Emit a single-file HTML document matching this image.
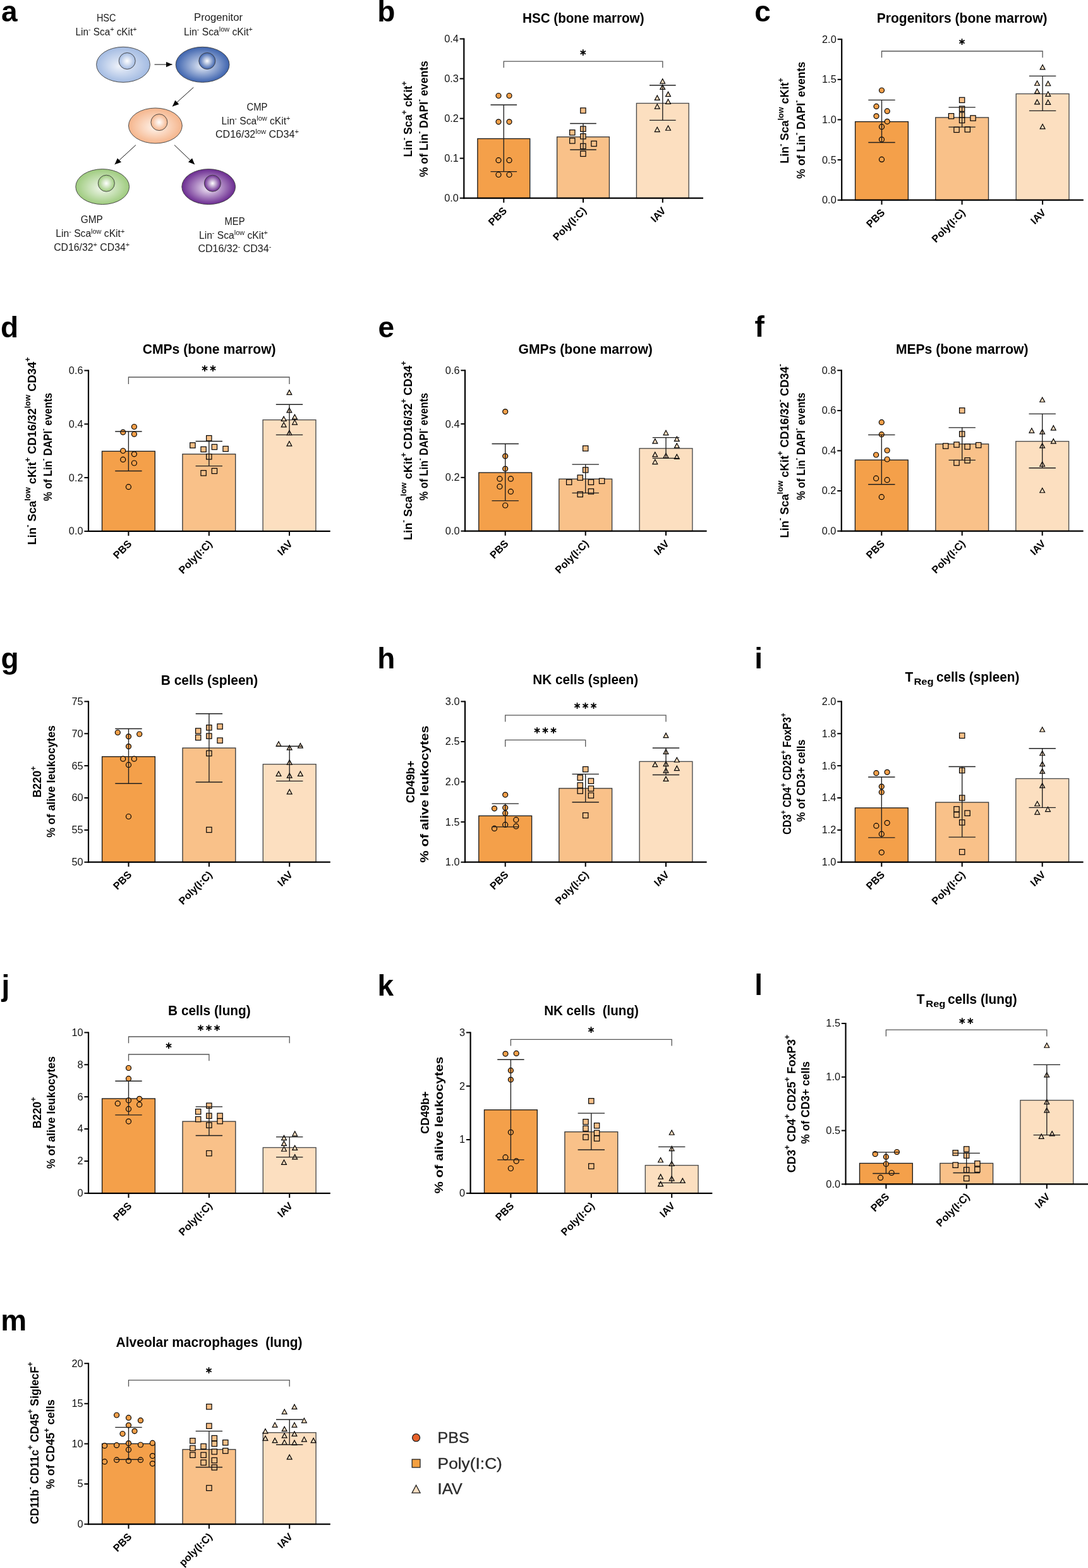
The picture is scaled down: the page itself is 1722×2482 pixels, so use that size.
<!DOCTYPE html>
<html><head><meta charset="utf-8"><title>Figure</title>
<style>
html,body{margin:0;padding:0;background:#fff;}
body{width:1722px;height:2482px;overflow:hidden;}
svg{display:block;}
text{font-family:"Liberation Sans", Arial, Helvetica, sans-serif;}
</style></head>
<body>
<svg width="1722" height="2482" viewBox="0 0 1722 2482">
<rect x="0" y="0" width="1722" height="2482" fill="#fff"/>
<defs><radialGradient id="g_hsc" cx="0.5" cy="0.5" r="0.5" fx="0.42" fy="0.55"><stop offset="0" stop-color="#EEF2FA"/><stop offset="1" stop-color="#A3BBE2"/></radialGradient><radialGradient id="n_hsc" cx="0.5" cy="0.5" r="0.5" fx="0.5" fy="0.5"><stop offset="0" stop-color="#FFFFFF"/><stop offset="1" stop-color="#A3BBE2"/></radialGradient><radialGradient id="g_pro" cx="0.5" cy="0.5" r="0.5" fx="0.5" fy="0.55"><stop offset="0" stop-color="#E6ECF7"/><stop offset="1" stop-color="#3D63AE"/></radialGradient><radialGradient id="n_pro" cx="0.5" cy="0.5" r="0.5" fx="0.5" fy="0.5"><stop offset="0" stop-color="#FFFFFF"/><stop offset="1" stop-color="#3D63AE"/></radialGradient><radialGradient id="g_cmp" cx="0.5" cy="0.5" r="0.5" fx="0.5" fy="0.55"><stop offset="0" stop-color="#FFF4EC"/><stop offset="1" stop-color="#F5B58C"/></radialGradient><radialGradient id="n_cmp" cx="0.5" cy="0.5" r="0.5" fx="0.5" fy="0.5"><stop offset="0" stop-color="#FFFFFF"/><stop offset="1" stop-color="#F5B58C"/></radialGradient><radialGradient id="g_gmp" cx="0.5" cy="0.5" r="0.5" fx="0.5" fy="0.55"><stop offset="0" stop-color="#F3F8EF"/><stop offset="1" stop-color="#9ECB7E"/></radialGradient><radialGradient id="n_gmp" cx="0.5" cy="0.5" r="0.5" fx="0.5" fy="0.5"><stop offset="0" stop-color="#FFFFFF"/><stop offset="1" stop-color="#9ECB7E"/></radialGradient><radialGradient id="g_mep" cx="0.5" cy="0.5" r="0.5" fx="0.5" fy="0.55"><stop offset="0" stop-color="#F3EAF7"/><stop offset="1" stop-color="#6A2A90"/></radialGradient><radialGradient id="n_mep" cx="0.5" cy="0.5" r="0.5" fx="0.5" fy="0.5"><stop offset="0" stop-color="#FFFFFF"/><stop offset="1" stop-color="#6A2A90"/></radialGradient><marker id="arr" viewBox="0 0 10 10" refX="10" refY="5" markerWidth="10" markerHeight="10" markerUnits="userSpaceOnUse" orient="auto"><path d="M0,0.6 L10,5 L0,9.4 z" fill="#000"/></marker></defs>
<ellipse cx="195" cy="102.3" rx="42.4" ry="28" fill="url(#g_hsc)" stroke="#3c3c3c" stroke-width="0.9"/>
<circle cx="201.2" cy="96.5" r="13" fill="url(#n_hsc)" stroke="#3c3c3c" stroke-width="0.9"/>
<ellipse cx="320.6" cy="102.3" rx="42.4" ry="28" fill="url(#g_pro)" stroke="#3c3c3c" stroke-width="0.9"/>
<circle cx="327.8" cy="96.5" r="13" fill="url(#n_pro)" stroke="#3c3c3c" stroke-width="0.9"/>
<ellipse cx="245.9" cy="199" rx="42.4" ry="28" fill="url(#g_cmp)" stroke="#3c3c3c" stroke-width="0.9"/>
<circle cx="251.9" cy="193.6" r="13" fill="url(#n_cmp)" stroke="#3c3c3c" stroke-width="0.9"/>
<ellipse cx="162.2" cy="295.6" rx="42.4" ry="28" fill="url(#g_gmp)" stroke="#3c3c3c" stroke-width="0.9"/>
<circle cx="168.3" cy="290.2" r="13" fill="url(#n_gmp)" stroke="#3c3c3c" stroke-width="0.9"/>
<ellipse cx="330.2" cy="295.6" rx="42.4" ry="28" fill="url(#g_mep)" stroke="#3c3c3c" stroke-width="0.9"/>
<circle cx="336.4" cy="290.2" r="13" fill="url(#n_mep)" stroke="#3c3c3c" stroke-width="0.9"/>
<line x1="244.5" y1="102.1" x2="272.6" y2="102.1" stroke="#111" stroke-width="1" marker-end="url(#arr)"/>
<line x1="306.3" y1="138.3" x2="272.9" y2="168.4" stroke="#111" stroke-width="1" marker-end="url(#arr)"/>
<line x1="214.9" y1="229.6" x2="181.6" y2="260.2" stroke="#111" stroke-width="1" marker-end="url(#arr)"/>
<line x1="276" y1="229.6" x2="308.1" y2="260.2" stroke="#111" stroke-width="1" marker-end="url(#arr)"/>
<text x="168.2" y="33.8" font-size="15.6" font-weight="normal" text-anchor="middle" fill="#1a1a1a" textLength="30.5" lengthAdjust="spacingAndGlyphs">HSC</text>
<text x="168" y="55.6" font-size="15.6" font-weight="normal" text-anchor="middle" fill="#1a1a1a" textLength="97" lengthAdjust="spacingAndGlyphs">Lin<tspan font-size="10.92" dy="-5.62">-</tspan><tspan dy="5.62"> Sca</tspan><tspan font-size="10.92" dy="-5.62">+</tspan><tspan dy="5.62"> cKit</tspan><tspan font-size="10.92" dy="-5.62">+</tspan></text>
<text x="345.6" y="33.1" font-size="15.6" font-weight="normal" text-anchor="middle" fill="#1a1a1a" textLength="77" lengthAdjust="spacingAndGlyphs">Progenitor</text>
<text x="345.5" y="55.6" font-size="15.6" font-weight="normal" text-anchor="middle" fill="#1a1a1a" textLength="109" lengthAdjust="spacingAndGlyphs">Lin<tspan font-size="10.92" dy="-5.62">-</tspan><tspan dy="5.62"> Sca</tspan><tspan font-size="10.92" dy="-5.62">low</tspan><tspan dy="5.62"> cKit</tspan><tspan font-size="10.92" dy="-5.62">+</tspan></text>
<text x="407" y="174.7" font-size="15.6" font-weight="normal" text-anchor="middle" fill="#1a1a1a" textLength="33" lengthAdjust="spacingAndGlyphs">CMP</text>
<text x="405" y="196.7" font-size="15.6" font-weight="normal" text-anchor="middle" fill="#1a1a1a" textLength="109" lengthAdjust="spacingAndGlyphs">Lin<tspan font-size="10.92" dy="-5.62">-</tspan><tspan dy="5.62"> Sca</tspan><tspan font-size="10.92" dy="-5.62">low</tspan><tspan dy="5.62"> cKit</tspan><tspan font-size="10.92" dy="-5.62">+</tspan></text>
<text x="407" y="217.5" font-size="15.6" font-weight="normal" text-anchor="middle" fill="#1a1a1a" textLength="132" lengthAdjust="spacingAndGlyphs">CD16/32<tspan font-size="10.92" dy="-5.62">low</tspan><tspan dy="5.62"> CD34</tspan><tspan font-size="10.92" dy="-5.62">+</tspan></text>
<text x="145.2" y="353.4" font-size="15.6" font-weight="normal" text-anchor="middle" fill="#1a1a1a" textLength="35" lengthAdjust="spacingAndGlyphs">GMP</text>
<text x="142.8" y="375.4" font-size="15.6" font-weight="normal" text-anchor="middle" fill="#1a1a1a" textLength="109" lengthAdjust="spacingAndGlyphs">Lin<tspan font-size="10.92" dy="-5.62">-</tspan><tspan dy="5.62"> Sca</tspan><tspan font-size="10.92" dy="-5.62">low</tspan><tspan dy="5.62"> cKit</tspan><tspan font-size="10.92" dy="-5.62">+</tspan></text>
<text x="145.2" y="396.7" font-size="15.6" font-weight="normal" text-anchor="middle" fill="#1a1a1a" textLength="120" lengthAdjust="spacingAndGlyphs">CD16/32<tspan font-size="10.92" dy="-5.62">+</tspan><tspan dy="5.62"> CD34</tspan><tspan font-size="10.92" dy="-5.62">+</tspan></text>
<text x="371.5" y="355.9" font-size="15.6" font-weight="normal" text-anchor="middle" fill="#1a1a1a" textLength="32" lengthAdjust="spacingAndGlyphs">MEP</text>
<text x="369.5" y="378" font-size="15.6" font-weight="normal" text-anchor="middle" fill="#1a1a1a" textLength="109" lengthAdjust="spacingAndGlyphs">Lin<tspan font-size="10.92" dy="-5.62">-</tspan><tspan dy="5.62"> Sca</tspan><tspan font-size="10.92" dy="-5.62">low</tspan><tspan dy="5.62"> cKit</tspan><tspan font-size="10.92" dy="-5.62">+</tspan></text>
<text x="371.4" y="399.3" font-size="15.6" font-weight="normal" text-anchor="middle" fill="#1a1a1a" textLength="116" lengthAdjust="spacingAndGlyphs">CD16/32<tspan font-size="10.92" dy="-5.62">-</tspan><tspan dy="5.62"> CD34</tspan><tspan font-size="10.92" dy="-5.62">-</tspan></text>
<rect x="755.9" y="219.5" width="82.8" height="94.1" fill="#F4A04A" stroke="#1c1c1c" stroke-width="1.35"/>
<rect x="881.6" y="216.7" width="82.8" height="96.9" fill="#F9C189" stroke="#383838" stroke-width="1.35"/>
<rect x="1007.4" y="163.5" width="82.8" height="150.1" fill="#FCDFC0" stroke="#4a4a4a" stroke-width="1.35"/>
<circle cx="789" cy="151.5" r="4" fill="#F4A04A" stroke="#000" stroke-width="1.2"/>
<circle cx="806" cy="151.5" r="4" fill="#F4A04A" stroke="#000" stroke-width="1.2"/>
<circle cx="789" cy="192.8" r="4" fill="#F4A04A" stroke="#000" stroke-width="1.2"/>
<circle cx="806" cy="192.8" r="4" fill="#F4A04A" stroke="#000" stroke-width="1.2"/>
<circle cx="789" cy="253.7" r="4" fill="#F4A04A" stroke="#000" stroke-width="1.2"/>
<circle cx="806" cy="253.7" r="4" fill="#F4A04A" stroke="#000" stroke-width="1.2"/>
<circle cx="789" cy="276.5" r="4" fill="#F4A04A" stroke="#000" stroke-width="1.2"/>
<circle cx="806" cy="276.5" r="4" fill="#F4A04A" stroke="#000" stroke-width="1.2"/>
<rect x="918.75" y="170.85" width="8.3" height="8.3" fill="#F9C189" stroke="#000" stroke-width="1.2"/>
<rect x="901.65" y="205.65" width="8.3" height="8.3" fill="#F9C189" stroke="#000" stroke-width="1.2"/>
<rect x="918.75" y="199.95" width="8.3" height="8.3" fill="#F9C189" stroke="#000" stroke-width="1.2"/>
<rect x="918.75" y="211.65" width="8.3" height="8.3" fill="#F9C189" stroke="#000" stroke-width="1.2"/>
<rect x="901.65" y="218.75" width="8.3" height="8.3" fill="#F9C189" stroke="#000" stroke-width="1.2"/>
<rect x="935.85" y="223.25" width="8.3" height="8.3" fill="#F9C189" stroke="#000" stroke-width="1.2"/>
<rect x="918.75" y="227.25" width="8.3" height="8.3" fill="#F9C189" stroke="#000" stroke-width="1.2"/>
<rect x="918.75" y="239.25" width="8.3" height="8.3" fill="#F9C189" stroke="#000" stroke-width="1.2"/>
<polygon points="1048.7,124.75 1044.8,132.05 1052.6,132.05" fill="#FCDFC0" stroke="#000" stroke-width="1.2" stroke-linejoin="miter"/>
<polygon points="1048.7,134.15 1044.8,141.45 1052.6,141.45" fill="#FCDFC0" stroke="#000" stroke-width="1.2" stroke-linejoin="miter"/>
<polygon points="1057.5,145.35 1053.6,152.65 1061.4,152.65" fill="#FCDFC0" stroke="#000" stroke-width="1.2" stroke-linejoin="miter"/>
<polygon points="1040.2,151.05 1036.3,158.35 1044.1,158.35" fill="#FCDFC0" stroke="#000" stroke-width="1.2" stroke-linejoin="miter"/>
<polygon points="1057.5,157.05 1053.6,164.35 1061.4,164.35" fill="#FCDFC0" stroke="#000" stroke-width="1.2" stroke-linejoin="miter"/>
<polygon points="1040.2,164.75 1036.3,172.05 1044.1,172.05" fill="#FCDFC0" stroke="#000" stroke-width="1.2" stroke-linejoin="miter"/>
<polygon points="1040.2,201.25 1036.3,208.55 1044.1,208.55" fill="#FCDFC0" stroke="#000" stroke-width="1.2" stroke-linejoin="miter"/>
<polygon points="1057.5,198.95 1053.6,206.25 1061.4,206.25" fill="#FCDFC0" stroke="#000" stroke-width="1.2" stroke-linejoin="miter"/>
<line x1="797.3" y1="166" x2="797.3" y2="271.6" stroke="#1e1e1e" stroke-width="1.35"/>
<line x1="776.5" y1="166" x2="818.1" y2="166" stroke="#1e1e1e" stroke-width="1.35"/>
<line x1="776.5" y1="271.6" x2="818.1" y2="271.6" stroke="#1e1e1e" stroke-width="1.35"/>
<line x1="923" y1="195.5" x2="923" y2="237" stroke="#1e1e1e" stroke-width="1.35"/>
<line x1="902.2" y1="195.5" x2="943.8" y2="195.5" stroke="#1e1e1e" stroke-width="1.35"/>
<line x1="902.2" y1="237" x2="943.8" y2="237" stroke="#1e1e1e" stroke-width="1.35"/>
<line x1="1048.8" y1="135" x2="1048.8" y2="190.4" stroke="#1e1e1e" stroke-width="1.35"/>
<line x1="1028" y1="135" x2="1069.6" y2="135" stroke="#1e1e1e" stroke-width="1.35"/>
<line x1="1028" y1="190.4" x2="1069.6" y2="190.4" stroke="#1e1e1e" stroke-width="1.35"/>
<line x1="734.3" y1="60.5" x2="734.3" y2="314.7" stroke="#000" stroke-width="2.2"/>
<line x1="733.2" y1="313.6" x2="1113" y2="313.6" stroke="#000" stroke-width="2.2"/>
<line x1="727.7" y1="313.6" x2="734.3" y2="313.6" stroke="#000" stroke-width="2"/>
<text x="725.8" y="319.05" font-size="16.3" font-weight="normal" text-anchor="end" fill="#111">0.0</text>
<line x1="727.7" y1="250.58" x2="734.3" y2="250.58" stroke="#000" stroke-width="2"/>
<text x="725.8" y="256.03" font-size="16.3" font-weight="normal" text-anchor="end" fill="#111">0.1</text>
<line x1="727.7" y1="187.55" x2="734.3" y2="187.55" stroke="#000" stroke-width="2"/>
<text x="725.8" y="193" font-size="16.3" font-weight="normal" text-anchor="end" fill="#111">0.2</text>
<line x1="727.7" y1="124.53" x2="734.3" y2="124.53" stroke="#000" stroke-width="2"/>
<text x="725.8" y="129.98" font-size="16.3" font-weight="normal" text-anchor="end" fill="#111">0.3</text>
<line x1="727.7" y1="61.5" x2="734.3" y2="61.5" stroke="#000" stroke-width="2"/>
<text x="725.8" y="66.95" font-size="16.3" font-weight="normal" text-anchor="end" fill="#111">0.4</text>
<line x1="797.3" y1="313.6" x2="797.3" y2="320.8" stroke="#000" stroke-width="2"/>
<text x="803.3" y="334.5" font-size="16.3" font-weight="bold" text-anchor="end" fill="#000" transform="rotate(-45 803.3 334.5)">PBS</text>
<line x1="923" y1="313.6" x2="923" y2="320.8" stroke="#000" stroke-width="2"/>
<text x="929" y="334.5" font-size="16.3" font-weight="bold" text-anchor="end" fill="#000" transform="rotate(-45 929 334.5)">Poly(I:C)</text>
<line x1="1048.8" y1="313.6" x2="1048.8" y2="320.8" stroke="#000" stroke-width="2"/>
<text x="1054.8" y="334.5" font-size="16.3" font-weight="bold" text-anchor="end" fill="#000" transform="rotate(-45 1054.8 334.5)">IAV</text>
<polyline points="797.3,107.3 797.3,97.2 1048.8,97.2 1048.8,107.3" fill="none" stroke="#555555" stroke-width="1.3"/>
<text x="923.05" y="87.8" font-size="15.5" font-weight="bold" text-anchor="middle" fill="#000" font-family="DejaVu Sans, sans-serif" style="font-family:'DejaVu Sans',sans-serif">∗</text>
<text x="923.25" y="35.5" font-size="21.5" font-weight="bold" text-anchor="middle" fill="#000" textLength="192.5" lengthAdjust="spacingAndGlyphs">HSC (bone marrow)</text>
<text x="652.2" y="188.55" font-size="18" font-weight="bold" text-anchor="middle" fill="#000" transform="rotate(-90 652.2 188.55)" textLength="120.1" lengthAdjust="spacingAndGlyphs">Lin<tspan font-size="12.6" dy="-8.64">-</tspan><tspan dy="8.64"> Sca</tspan><tspan font-size="12.6" dy="-8.64">+</tspan><tspan dy="8.64"> cKit</tspan><tspan font-size="12.6" dy="-8.64">+</tspan></text>
<text x="677.1" y="188.2" font-size="18" font-weight="bold" text-anchor="middle" fill="#000" transform="rotate(-90 677.1 188.2)" textLength="184" lengthAdjust="spacingAndGlyphs">% of Lin<tspan font-size="12.6" dy="-8.64">-</tspan><tspan dy="8.64"> DAPI</tspan><tspan font-size="12.6" dy="-8.64">-</tspan><tspan dy="8.64"> events</tspan></text>
<rect x="1353.6" y="192.6" width="83.8" height="124.1" fill="#F4A04A" stroke="#1c1c1c" stroke-width="1.35"/>
<rect x="1480.7" y="186" width="83.8" height="130.7" fill="#F9C189" stroke="#383838" stroke-width="1.35"/>
<rect x="1608.2" y="148.5" width="83.8" height="168.2" fill="#FCDFC0" stroke="#4a4a4a" stroke-width="1.35"/>
<circle cx="1395.5" cy="143" r="4" fill="#F4A04A" stroke="#000" stroke-width="1.2"/>
<circle cx="1387" cy="168.4" r="4" fill="#F4A04A" stroke="#000" stroke-width="1.2"/>
<circle cx="1404.2" cy="175.9" r="4" fill="#F4A04A" stroke="#000" stroke-width="1.2"/>
<circle cx="1387" cy="183.8" r="4" fill="#F4A04A" stroke="#000" stroke-width="1.2"/>
<circle cx="1404.2" cy="192.3" r="4" fill="#F4A04A" stroke="#000" stroke-width="1.2"/>
<circle cx="1395.5" cy="200.7" r="4" fill="#F4A04A" stroke="#000" stroke-width="1.2"/>
<circle cx="1395.5" cy="220.8" r="4" fill="#F4A04A" stroke="#000" stroke-width="1.2"/>
<circle cx="1395.5" cy="252.4" r="4" fill="#F4A04A" stroke="#000" stroke-width="1.2"/>
<rect x="1518.45" y="154.25" width="8.3" height="8.3" fill="#F9C189" stroke="#000" stroke-width="1.2"/>
<rect x="1518.45" y="168.05" width="8.3" height="8.3" fill="#F9C189" stroke="#000" stroke-width="1.2"/>
<rect x="1518.45" y="177.85" width="8.3" height="8.3" fill="#F9C189" stroke="#000" stroke-width="1.2"/>
<rect x="1501.35" y="179.65" width="8.3" height="8.3" fill="#F9C189" stroke="#000" stroke-width="1.2"/>
<rect x="1535.85" y="182.85" width="8.3" height="8.3" fill="#F9C189" stroke="#000" stroke-width="1.2"/>
<rect x="1518.45" y="186.25" width="8.3" height="8.3" fill="#F9C189" stroke="#000" stroke-width="1.2"/>
<rect x="1509.85" y="201.25" width="8.3" height="8.3" fill="#F9C189" stroke="#000" stroke-width="1.2"/>
<rect x="1527.15" y="200.75" width="8.3" height="8.3" fill="#F9C189" stroke="#000" stroke-width="1.2"/>
<polygon points="1650.1,102.55 1646.2,109.85 1654,109.85" fill="#FCDFC0" stroke="#000" stroke-width="1.2" stroke-linejoin="miter"/>
<polygon points="1641.5,127.95 1637.6,135.25 1645.4,135.25" fill="#FCDFC0" stroke="#000" stroke-width="1.2" stroke-linejoin="miter"/>
<polygon points="1658.8,128.45 1654.9,135.75 1662.7,135.75" fill="#FCDFC0" stroke="#000" stroke-width="1.2" stroke-linejoin="miter"/>
<polygon points="1641.5,140.65 1637.6,147.95 1645.4,147.95" fill="#FCDFC0" stroke="#000" stroke-width="1.2" stroke-linejoin="miter"/>
<polygon points="1658.8,145.05 1654.9,152.35 1662.7,152.35" fill="#FCDFC0" stroke="#000" stroke-width="1.2" stroke-linejoin="miter"/>
<polygon points="1641.5,157.65 1637.6,164.95 1645.4,164.95" fill="#FCDFC0" stroke="#000" stroke-width="1.2" stroke-linejoin="miter"/>
<polygon points="1658.8,158.15 1654.9,165.45 1662.7,165.45" fill="#FCDFC0" stroke="#000" stroke-width="1.2" stroke-linejoin="miter"/>
<polygon points="1650.1,196.55 1646.2,203.85 1654,203.85" fill="#FCDFC0" stroke="#000" stroke-width="1.2" stroke-linejoin="miter"/>
<line x1="1395.5" y1="158.4" x2="1395.5" y2="225.5" stroke="#1e1e1e" stroke-width="1.35"/>
<line x1="1374.3" y1="158.4" x2="1416.7" y2="158.4" stroke="#1e1e1e" stroke-width="1.35"/>
<line x1="1374.3" y1="225.5" x2="1416.7" y2="225.5" stroke="#1e1e1e" stroke-width="1.35"/>
<line x1="1522.6" y1="169.9" x2="1522.6" y2="201.1" stroke="#1e1e1e" stroke-width="1.35"/>
<line x1="1501.4" y1="169.9" x2="1543.8" y2="169.9" stroke="#1e1e1e" stroke-width="1.35"/>
<line x1="1501.4" y1="201.1" x2="1543.8" y2="201.1" stroke="#1e1e1e" stroke-width="1.35"/>
<line x1="1650.1" y1="120.3" x2="1650.1" y2="175.4" stroke="#1e1e1e" stroke-width="1.35"/>
<line x1="1628.9" y1="120.3" x2="1671.3" y2="120.3" stroke="#1e1e1e" stroke-width="1.35"/>
<line x1="1628.9" y1="175.4" x2="1671.3" y2="175.4" stroke="#1e1e1e" stroke-width="1.35"/>
<line x1="1332.2" y1="61.2" x2="1332.2" y2="317.8" stroke="#000" stroke-width="2.2"/>
<line x1="1331.1" y1="316.7" x2="1714.8" y2="316.7" stroke="#000" stroke-width="2.2"/>
<line x1="1325.6" y1="316.7" x2="1332.2" y2="316.7" stroke="#000" stroke-width="2"/>
<text x="1323.7" y="322.15" font-size="16.3" font-weight="normal" text-anchor="end" fill="#111">0.0</text>
<line x1="1325.6" y1="253.07" x2="1332.2" y2="253.07" stroke="#000" stroke-width="2"/>
<text x="1323.7" y="258.52" font-size="16.3" font-weight="normal" text-anchor="end" fill="#111">0.5</text>
<line x1="1325.6" y1="189.45" x2="1332.2" y2="189.45" stroke="#000" stroke-width="2"/>
<text x="1323.7" y="194.9" font-size="16.3" font-weight="normal" text-anchor="end" fill="#111">1.0</text>
<line x1="1325.6" y1="125.82" x2="1332.2" y2="125.82" stroke="#000" stroke-width="2"/>
<text x="1323.7" y="131.27" font-size="16.3" font-weight="normal" text-anchor="end" fill="#111">1.5</text>
<line x1="1325.6" y1="62.2" x2="1332.2" y2="62.2" stroke="#000" stroke-width="2"/>
<text x="1323.7" y="67.65" font-size="16.3" font-weight="normal" text-anchor="end" fill="#111">2.0</text>
<line x1="1395.5" y1="316.7" x2="1395.5" y2="323.9" stroke="#000" stroke-width="2"/>
<text x="1401.5" y="337.6" font-size="16.3" font-weight="bold" text-anchor="end" fill="#000" transform="rotate(-45 1401.5 337.6)">PBS</text>
<line x1="1522.6" y1="316.7" x2="1522.6" y2="323.9" stroke="#000" stroke-width="2"/>
<text x="1528.6" y="337.6" font-size="16.3" font-weight="bold" text-anchor="end" fill="#000" transform="rotate(-45 1528.6 337.6)">Poly(I:C)</text>
<line x1="1650.1" y1="316.7" x2="1650.1" y2="323.9" stroke="#000" stroke-width="2"/>
<text x="1656.1" y="337.6" font-size="16.3" font-weight="bold" text-anchor="end" fill="#000" transform="rotate(-45 1656.1 337.6)">IAV</text>
<polyline points="1395.5,91.3 1395.5,81 1650.1,81 1650.1,91.3" fill="none" stroke="#555555" stroke-width="1.3"/>
<text x="1522.8" y="71.2" font-size="15.5" font-weight="bold" text-anchor="middle" fill="#000" font-family="DejaVu Sans, sans-serif" style="font-family:'DejaVu Sans',sans-serif">∗</text>
<text x="1522.65" y="35.8" font-size="21.5" font-weight="bold" text-anchor="middle" fill="#000" textLength="269.7" lengthAdjust="spacingAndGlyphs">Progenitors (bone marrow)</text>
<text x="1248.2" y="190.9" font-size="18" font-weight="bold" text-anchor="middle" fill="#000" transform="rotate(-90 1248.2 190.9)" textLength="135.6" lengthAdjust="spacingAndGlyphs">Lin<tspan font-size="12.6" dy="-8.64">-</tspan><tspan dy="8.64"> Sca</tspan><tspan font-size="12.6" dy="-8.64">low</tspan><tspan dy="8.64"> cKit</tspan><tspan font-size="12.6" dy="-8.64">+</tspan></text>
<text x="1273.8" y="190.25" font-size="18" font-weight="bold" text-anchor="middle" fill="#000" transform="rotate(-90 1273.8 190.25)" textLength="185.3" lengthAdjust="spacingAndGlyphs">% of Lin<tspan font-size="12.6" dy="-8.64">-</tspan><tspan dy="8.64"> DAPI</tspan><tspan font-size="12.6" dy="-8.64">-</tspan><tspan dy="8.64"> events</tspan></text>
<rect x="161.5" y="714.3" width="83.8" height="126.6" fill="#F4A04A" stroke="#1c1c1c" stroke-width="1.35"/>
<rect x="288.9" y="718.8" width="83.8" height="122.1" fill="#F9C189" stroke="#383838" stroke-width="1.35"/>
<rect x="416.1" y="664.6" width="83.8" height="176.3" fill="#FCDFC0" stroke="#4a4a4a" stroke-width="1.35"/>
<circle cx="212.4" cy="675.5" r="4" fill="#F4A04A" stroke="#000" stroke-width="1.2"/>
<circle cx="194.7" cy="684.2" r="4" fill="#F4A04A" stroke="#000" stroke-width="1.2"/>
<circle cx="212.4" cy="687.2" r="4" fill="#F4A04A" stroke="#000" stroke-width="1.2"/>
<circle cx="194.7" cy="713.5" r="4" fill="#F4A04A" stroke="#000" stroke-width="1.2"/>
<circle cx="212.4" cy="718.8" r="4" fill="#F4A04A" stroke="#000" stroke-width="1.2"/>
<circle cx="194.7" cy="727.4" r="4" fill="#F4A04A" stroke="#000" stroke-width="1.2"/>
<circle cx="212.4" cy="733" r="4" fill="#F4A04A" stroke="#000" stroke-width="1.2"/>
<circle cx="203.4" cy="770.7" r="4" fill="#F4A04A" stroke="#000" stroke-width="1.2"/>
<rect x="326.65" y="689.45" width="8.3" height="8.3" fill="#F9C189" stroke="#000" stroke-width="1.2"/>
<rect x="300.75" y="700.75" width="8.3" height="8.3" fill="#F9C189" stroke="#000" stroke-width="1.2"/>
<rect x="335.25" y="703.35" width="8.3" height="8.3" fill="#F9C189" stroke="#000" stroke-width="1.2"/>
<rect x="317.95" y="707.15" width="8.3" height="8.3" fill="#F9C189" stroke="#000" stroke-width="1.2"/>
<rect x="352.95" y="706.35" width="8.3" height="8.3" fill="#F9C189" stroke="#000" stroke-width="1.2"/>
<rect x="326.65" y="718.75" width="8.3" height="8.3" fill="#F9C189" stroke="#000" stroke-width="1.2"/>
<rect x="335.25" y="741.35" width="8.3" height="8.3" fill="#F9C189" stroke="#000" stroke-width="1.2"/>
<rect x="317.95" y="744.65" width="8.3" height="8.3" fill="#F9C189" stroke="#000" stroke-width="1.2"/>
<polygon points="457.9,617.35 454,624.65 461.8,624.65" fill="#FCDFC0" stroke="#000" stroke-width="1.2" stroke-linejoin="miter"/>
<polygon points="457.9,645.55 454,652.85 461.8,652.85" fill="#FCDFC0" stroke="#000" stroke-width="1.2" stroke-linejoin="miter"/>
<polygon points="449.2,659.15 445.3,666.45 453.1,666.45" fill="#FCDFC0" stroke="#000" stroke-width="1.2" stroke-linejoin="miter"/>
<polygon points="466.5,656.15 462.6,663.45 470.4,663.45" fill="#FCDFC0" stroke="#000" stroke-width="1.2" stroke-linejoin="miter"/>
<polygon points="449.2,668.55 445.3,675.85 453.1,675.85" fill="#FCDFC0" stroke="#000" stroke-width="1.2" stroke-linejoin="miter"/>
<polygon points="466.5,664.75 462.6,672.05 470.4,672.05" fill="#FCDFC0" stroke="#000" stroke-width="1.2" stroke-linejoin="miter"/>
<polygon points="457.9,681.35 454,688.65 461.8,688.65" fill="#FCDFC0" stroke="#000" stroke-width="1.2" stroke-linejoin="miter"/>
<polygon points="457.9,698.55 454,705.85 461.8,705.85" fill="#FCDFC0" stroke="#000" stroke-width="1.2" stroke-linejoin="miter"/>
<line x1="203.4" y1="683" x2="203.4" y2="745.5" stroke="#1e1e1e" stroke-width="1.35"/>
<line x1="182.2" y1="683" x2="224.6" y2="683" stroke="#1e1e1e" stroke-width="1.35"/>
<line x1="182.2" y1="745.5" x2="224.6" y2="745.5" stroke="#1e1e1e" stroke-width="1.35"/>
<line x1="330.8" y1="698.5" x2="330.8" y2="737.6" stroke="#1e1e1e" stroke-width="1.35"/>
<line x1="309.6" y1="698.5" x2="352" y2="698.5" stroke="#1e1e1e" stroke-width="1.35"/>
<line x1="309.6" y1="737.6" x2="352" y2="737.6" stroke="#1e1e1e" stroke-width="1.35"/>
<line x1="458" y1="640.2" x2="458" y2="688.3" stroke="#1e1e1e" stroke-width="1.35"/>
<line x1="436.8" y1="640.2" x2="479.2" y2="640.2" stroke="#1e1e1e" stroke-width="1.35"/>
<line x1="436.8" y1="688.3" x2="479.2" y2="688.3" stroke="#1e1e1e" stroke-width="1.35"/>
<line x1="140" y1="585.5" x2="140" y2="842" stroke="#000" stroke-width="2.2"/>
<line x1="138.9" y1="840.9" x2="522.7" y2="840.9" stroke="#000" stroke-width="2.2"/>
<line x1="133.4" y1="840.9" x2="140" y2="840.9" stroke="#000" stroke-width="2"/>
<text x="131.5" y="846.35" font-size="16.3" font-weight="normal" text-anchor="end" fill="#111">0.0</text>
<line x1="133.4" y1="756.1" x2="140" y2="756.1" stroke="#000" stroke-width="2"/>
<text x="131.5" y="761.55" font-size="16.3" font-weight="normal" text-anchor="end" fill="#111">0.2</text>
<line x1="133.4" y1="671.3" x2="140" y2="671.3" stroke="#000" stroke-width="2"/>
<text x="131.5" y="676.75" font-size="16.3" font-weight="normal" text-anchor="end" fill="#111">0.4</text>
<line x1="133.4" y1="586.5" x2="140" y2="586.5" stroke="#000" stroke-width="2"/>
<text x="131.5" y="591.95" font-size="16.3" font-weight="normal" text-anchor="end" fill="#111">0.6</text>
<line x1="203.4" y1="840.9" x2="203.4" y2="848.1" stroke="#000" stroke-width="2"/>
<text x="209.4" y="861.8" font-size="16.3" font-weight="bold" text-anchor="end" fill="#000" transform="rotate(-45 209.4 861.8)">PBS</text>
<line x1="330.8" y1="840.9" x2="330.8" y2="848.1" stroke="#000" stroke-width="2"/>
<text x="336.8" y="861.8" font-size="16.3" font-weight="bold" text-anchor="end" fill="#000" transform="rotate(-45 336.8 861.8)">Poly(I:C)</text>
<line x1="458" y1="840.9" x2="458" y2="848.1" stroke="#000" stroke-width="2"/>
<text x="464" y="861.8" font-size="16.3" font-weight="bold" text-anchor="end" fill="#000" transform="rotate(-45 464 861.8)">IAV</text>
<polyline points="203.4,607.9 203.4,597 458,597 458,607.9" fill="none" stroke="#555555" stroke-width="1.3"/>
<text x="330.7" y="588.3" font-size="15.5" font-weight="bold" text-anchor="middle" fill="#000" font-family="DejaVu Sans, sans-serif" style="font-family:'DejaVu Sans',sans-serif">∗∗</text>
<text x="331.15" y="560.2" font-size="21.5" font-weight="bold" text-anchor="middle" fill="#000" textLength="210.9" lengthAdjust="spacingAndGlyphs">CMPs (bone marrow)</text>
<text x="56.9" y="713.8" font-size="18" font-weight="bold" text-anchor="middle" fill="#000" transform="rotate(-90 56.9 713.8)" textLength="297.2" lengthAdjust="spacingAndGlyphs">Lin<tspan font-size="12.6" dy="-8.64">-</tspan><tspan dy="8.64"> Sca</tspan><tspan font-size="12.6" dy="-8.64">low</tspan><tspan dy="8.64"> cKit</tspan><tspan font-size="12.6" dy="-8.64">+</tspan><tspan dy="8.64"> CD16/32</tspan><tspan font-size="12.6" dy="-8.64">low</tspan><tspan dy="8.64"> CD34</tspan><tspan font-size="12.6" dy="-8.64">+</tspan></text>
<text x="81.8" y="707.45" font-size="18" font-weight="bold" text-anchor="middle" fill="#000" transform="rotate(-90 81.8 707.45)" textLength="171.3" lengthAdjust="spacingAndGlyphs">% of Lin<tspan font-size="12.6" dy="-8.64">-</tspan><tspan dy="8.64"> DAPI</tspan><tspan font-size="12.6" dy="-8.64">-</tspan><tspan dy="8.64"> events</tspan></text>
<rect x="757.8" y="748.1" width="83.8" height="92.5" fill="#F4A04A" stroke="#1c1c1c" stroke-width="1.35"/>
<rect x="884.8" y="758.2" width="83.8" height="82.4" fill="#F9C189" stroke="#383838" stroke-width="1.35"/>
<rect x="1012.1" y="709.8" width="83.8" height="130.8" fill="#FCDFC0" stroke="#4a4a4a" stroke-width="1.35"/>
<circle cx="799.7" cy="651.6" r="4" fill="#F4A04A" stroke="#000" stroke-width="1.2"/>
<circle cx="799.7" cy="722.1" r="4" fill="#F4A04A" stroke="#000" stroke-width="1.2"/>
<circle cx="799.7" cy="742.1" r="4" fill="#F4A04A" stroke="#000" stroke-width="1.2"/>
<circle cx="790.9" cy="757.9" r="4" fill="#F4A04A" stroke="#000" stroke-width="1.2"/>
<circle cx="808.4" cy="757.9" r="4" fill="#F4A04A" stroke="#000" stroke-width="1.2"/>
<circle cx="790.9" cy="770.2" r="4" fill="#F4A04A" stroke="#000" stroke-width="1.2"/>
<circle cx="808.4" cy="778.2" r="4" fill="#F4A04A" stroke="#000" stroke-width="1.2"/>
<circle cx="799.7" cy="800" r="4" fill="#F4A04A" stroke="#000" stroke-width="1.2"/>
<rect x="922.55" y="705.65" width="8.3" height="8.3" fill="#F9C189" stroke="#000" stroke-width="1.2"/>
<rect x="922.55" y="739.75" width="8.3" height="8.3" fill="#F9C189" stroke="#000" stroke-width="1.2"/>
<rect x="914.05" y="751.95" width="8.3" height="8.3" fill="#F9C189" stroke="#000" stroke-width="1.2"/>
<rect x="896.55" y="759.05" width="8.3" height="8.3" fill="#F9C189" stroke="#000" stroke-width="1.2"/>
<rect x="931.25" y="759.05" width="8.3" height="8.3" fill="#F9C189" stroke="#000" stroke-width="1.2"/>
<rect x="948.45" y="757.25" width="8.3" height="8.3" fill="#F9C189" stroke="#000" stroke-width="1.2"/>
<rect x="931.25" y="773.75" width="8.3" height="8.3" fill="#F9C189" stroke="#000" stroke-width="1.2"/>
<rect x="914.05" y="778.35" width="8.3" height="8.3" fill="#F9C189" stroke="#000" stroke-width="1.2"/>
<polygon points="1054,681.25 1050.1,688.55 1057.9,688.55" fill="#FCDFC0" stroke="#000" stroke-width="1.2" stroke-linejoin="miter"/>
<polygon points="1036.8,694.55 1032.9,701.85 1040.7,701.85" fill="#FCDFC0" stroke="#000" stroke-width="1.2" stroke-linejoin="miter"/>
<polygon points="1071.3,691.05 1067.4,698.35 1075.2,698.35" fill="#FCDFC0" stroke="#000" stroke-width="1.2" stroke-linejoin="miter"/>
<polygon points="1071.3,701.65 1067.4,708.95 1075.2,708.95" fill="#FCDFC0" stroke="#000" stroke-width="1.2" stroke-linejoin="miter"/>
<polygon points="1036.8,715.65 1032.9,722.95 1040.7,722.95" fill="#FCDFC0" stroke="#000" stroke-width="1.2" stroke-linejoin="miter"/>
<polygon points="1054,717.45 1050.1,724.75 1057.9,724.75" fill="#FCDFC0" stroke="#000" stroke-width="1.2" stroke-linejoin="miter"/>
<polygon points="1071.3,719.15 1067.4,726.45 1075.2,726.45" fill="#FCDFC0" stroke="#000" stroke-width="1.2" stroke-linejoin="miter"/>
<polygon points="1036.8,727.25 1032.9,734.55 1040.7,734.55" fill="#FCDFC0" stroke="#000" stroke-width="1.2" stroke-linejoin="miter"/>
<line x1="799.7" y1="702.5" x2="799.7" y2="792.6" stroke="#1e1e1e" stroke-width="1.35"/>
<line x1="778.5" y1="702.5" x2="820.9" y2="702.5" stroke="#1e1e1e" stroke-width="1.35"/>
<line x1="778.5" y1="792.6" x2="820.9" y2="792.6" stroke="#1e1e1e" stroke-width="1.35"/>
<line x1="926.7" y1="735.1" x2="926.7" y2="780.3" stroke="#1e1e1e" stroke-width="1.35"/>
<line x1="905.5" y1="735.1" x2="947.9" y2="735.1" stroke="#1e1e1e" stroke-width="1.35"/>
<line x1="905.5" y1="780.3" x2="947.9" y2="780.3" stroke="#1e1e1e" stroke-width="1.35"/>
<line x1="1054" y1="692.6" x2="1054" y2="725.3" stroke="#1e1e1e" stroke-width="1.35"/>
<line x1="1032.8" y1="692.6" x2="1075.2" y2="692.6" stroke="#1e1e1e" stroke-width="1.35"/>
<line x1="1032.8" y1="725.3" x2="1075.2" y2="725.3" stroke="#1e1e1e" stroke-width="1.35"/>
<line x1="736" y1="585.3" x2="736" y2="841.7" stroke="#000" stroke-width="2.2"/>
<line x1="734.9" y1="840.6" x2="1118.6" y2="840.6" stroke="#000" stroke-width="2.2"/>
<line x1="729.4" y1="840.6" x2="736" y2="840.6" stroke="#000" stroke-width="2"/>
<text x="727.5" y="846.05" font-size="16.3" font-weight="normal" text-anchor="end" fill="#111">0.0</text>
<line x1="729.4" y1="755.83" x2="736" y2="755.83" stroke="#000" stroke-width="2"/>
<text x="727.5" y="761.28" font-size="16.3" font-weight="normal" text-anchor="end" fill="#111">0.2</text>
<line x1="729.4" y1="671.07" x2="736" y2="671.07" stroke="#000" stroke-width="2"/>
<text x="727.5" y="676.52" font-size="16.3" font-weight="normal" text-anchor="end" fill="#111">0.4</text>
<line x1="729.4" y1="586.3" x2="736" y2="586.3" stroke="#000" stroke-width="2"/>
<text x="727.5" y="591.75" font-size="16.3" font-weight="normal" text-anchor="end" fill="#111">0.6</text>
<line x1="799.7" y1="840.6" x2="799.7" y2="847.8" stroke="#000" stroke-width="2"/>
<text x="805.7" y="861.5" font-size="16.3" font-weight="bold" text-anchor="end" fill="#000" transform="rotate(-45 805.7 861.5)">PBS</text>
<line x1="926.7" y1="840.6" x2="926.7" y2="847.8" stroke="#000" stroke-width="2"/>
<text x="932.7" y="861.5" font-size="16.3" font-weight="bold" text-anchor="end" fill="#000" transform="rotate(-45 932.7 861.5)">Poly(I:C)</text>
<line x1="1054" y1="840.6" x2="1054" y2="847.8" stroke="#000" stroke-width="2"/>
<text x="1060" y="861.5" font-size="16.3" font-weight="bold" text-anchor="end" fill="#000" transform="rotate(-45 1060 861.5)">IAV</text>
<text x="926.7" y="560.4" font-size="21.5" font-weight="bold" text-anchor="middle" fill="#000" textLength="212.4" lengthAdjust="spacingAndGlyphs">GMPs (bone marrow)</text>
<text x="651.9" y="713.1" font-size="18" font-weight="bold" text-anchor="middle" fill="#000" transform="rotate(-90 651.9 713.1)" textLength="283.6" lengthAdjust="spacingAndGlyphs">Lin<tspan font-size="12.6" dy="-8.64">-</tspan><tspan dy="8.64"> Sca</tspan><tspan font-size="12.6" dy="-8.64">low</tspan><tspan dy="8.64"> cKit</tspan><tspan font-size="12.6" dy="-8.64">+</tspan><tspan dy="8.64"> CD16/32</tspan><tspan font-size="12.6" dy="-8.64">+</tspan><tspan dy="8.64"> CD34</tspan><tspan font-size="12.6" dy="-8.64">+</tspan></text>
<text x="677.5" y="707.05" font-size="18" font-weight="bold" text-anchor="middle" fill="#000" transform="rotate(-90 677.5 707.05)" textLength="170.5" lengthAdjust="spacingAndGlyphs">% of Lin<tspan font-size="12.6" dy="-8.64">-</tspan><tspan dy="8.64"> DAPI</tspan><tspan font-size="12.6" dy="-8.64">-</tspan><tspan dy="8.64"> events</tspan></text>
<rect x="1353.4" y="728.1" width="83.8" height="112.5" fill="#F4A04A" stroke="#1c1c1c" stroke-width="1.35"/>
<rect x="1480.8" y="702.8" width="83.8" height="137.8" fill="#F9C189" stroke="#383838" stroke-width="1.35"/>
<rect x="1607.8" y="698.6" width="83.8" height="142" fill="#FCDFC0" stroke="#4a4a4a" stroke-width="1.35"/>
<circle cx="1395.3" cy="668.4" r="4" fill="#F4A04A" stroke="#000" stroke-width="1.2"/>
<circle cx="1395.3" cy="687.7" r="4" fill="#F4A04A" stroke="#000" stroke-width="1.2"/>
<circle cx="1404.1" cy="713" r="4" fill="#F4A04A" stroke="#000" stroke-width="1.2"/>
<circle cx="1386.6" cy="720" r="4" fill="#F4A04A" stroke="#000" stroke-width="1.2"/>
<circle cx="1404.1" cy="727" r="4" fill="#F4A04A" stroke="#000" stroke-width="1.2"/>
<circle cx="1386.6" cy="757.2" r="4" fill="#F4A04A" stroke="#000" stroke-width="1.2"/>
<circle cx="1404.1" cy="759.7" r="4" fill="#F4A04A" stroke="#000" stroke-width="1.2"/>
<circle cx="1395.3" cy="786.7" r="4" fill="#F4A04A" stroke="#000" stroke-width="1.2"/>
<rect x="1518.55" y="645.65" width="8.3" height="8.3" fill="#F9C189" stroke="#000" stroke-width="1.2"/>
<rect x="1518.55" y="682.85" width="8.3" height="8.3" fill="#F9C189" stroke="#000" stroke-width="1.2"/>
<rect x="1492.55" y="701.85" width="8.3" height="8.3" fill="#F9C189" stroke="#000" stroke-width="1.2"/>
<rect x="1509.85" y="699.75" width="8.3" height="8.3" fill="#F9C189" stroke="#000" stroke-width="1.2"/>
<rect x="1526.95" y="702.85" width="8.3" height="8.3" fill="#F9C189" stroke="#000" stroke-width="1.2"/>
<rect x="1544.55" y="700.45" width="8.3" height="8.3" fill="#F9C189" stroke="#000" stroke-width="1.2"/>
<rect x="1509.85" y="728.45" width="8.3" height="8.3" fill="#F9C189" stroke="#000" stroke-width="1.2"/>
<rect x="1526.95" y="724.65" width="8.3" height="8.3" fill="#F9C189" stroke="#000" stroke-width="1.2"/>
<polygon points="1649.7,628.95 1645.8,636.25 1653.6,636.25" fill="#FCDFC0" stroke="#000" stroke-width="1.2" stroke-linejoin="miter"/>
<polygon points="1632.9,677.75 1629,685.05 1636.8,685.05" fill="#FCDFC0" stroke="#000" stroke-width="1.2" stroke-linejoin="miter"/>
<polygon points="1649.7,679.55 1645.8,686.85 1653.6,686.85" fill="#FCDFC0" stroke="#000" stroke-width="1.2" stroke-linejoin="miter"/>
<polygon points="1667.3,673.55 1663.4,680.85 1671.2,680.85" fill="#FCDFC0" stroke="#000" stroke-width="1.2" stroke-linejoin="miter"/>
<polygon points="1667.3,694.55 1663.4,701.85 1671.2,701.85" fill="#FCDFC0" stroke="#000" stroke-width="1.2" stroke-linejoin="miter"/>
<polygon points="1649.7,701.65 1645.8,708.95 1653.6,708.95" fill="#FCDFC0" stroke="#000" stroke-width="1.2" stroke-linejoin="miter"/>
<polygon points="1649.7,730.75 1645.8,738.05 1653.6,738.05" fill="#FCDFC0" stroke="#000" stroke-width="1.2" stroke-linejoin="miter"/>
<polygon points="1649.7,772.45 1645.8,779.75 1653.6,779.75" fill="#FCDFC0" stroke="#000" stroke-width="1.2" stroke-linejoin="miter"/>
<line x1="1395.3" y1="688.4" x2="1395.3" y2="766.7" stroke="#1e1e1e" stroke-width="1.35"/>
<line x1="1374.1" y1="688.4" x2="1416.5" y2="688.4" stroke="#1e1e1e" stroke-width="1.35"/>
<line x1="1374.1" y1="766.7" x2="1416.5" y2="766.7" stroke="#1e1e1e" stroke-width="1.35"/>
<line x1="1522.7" y1="676.8" x2="1522.7" y2="728.4" stroke="#1e1e1e" stroke-width="1.35"/>
<line x1="1501.5" y1="676.8" x2="1543.9" y2="676.8" stroke="#1e1e1e" stroke-width="1.35"/>
<line x1="1501.5" y1="728.4" x2="1543.9" y2="728.4" stroke="#1e1e1e" stroke-width="1.35"/>
<line x1="1649.7" y1="655.1" x2="1649.7" y2="740.7" stroke="#1e1e1e" stroke-width="1.35"/>
<line x1="1628.5" y1="655.1" x2="1670.9" y2="655.1" stroke="#1e1e1e" stroke-width="1.35"/>
<line x1="1628.5" y1="740.7" x2="1670.9" y2="740.7" stroke="#1e1e1e" stroke-width="1.35"/>
<line x1="1331.8" y1="585.3" x2="1331.8" y2="841.7" stroke="#000" stroke-width="2.2"/>
<line x1="1330.7" y1="840.6" x2="1714.6" y2="840.6" stroke="#000" stroke-width="2.2"/>
<line x1="1325.2" y1="840.6" x2="1331.8" y2="840.6" stroke="#000" stroke-width="2"/>
<text x="1323.3" y="846.05" font-size="16.3" font-weight="normal" text-anchor="end" fill="#111">0.0</text>
<line x1="1325.2" y1="777.02" x2="1331.8" y2="777.02" stroke="#000" stroke-width="2"/>
<text x="1323.3" y="782.48" font-size="16.3" font-weight="normal" text-anchor="end" fill="#111">0.2</text>
<line x1="1325.2" y1="713.45" x2="1331.8" y2="713.45" stroke="#000" stroke-width="2"/>
<text x="1323.3" y="718.9" font-size="16.3" font-weight="normal" text-anchor="end" fill="#111">0.4</text>
<line x1="1325.2" y1="649.88" x2="1331.8" y2="649.88" stroke="#000" stroke-width="2"/>
<text x="1323.3" y="655.33" font-size="16.3" font-weight="normal" text-anchor="end" fill="#111">0.6</text>
<line x1="1325.2" y1="586.3" x2="1331.8" y2="586.3" stroke="#000" stroke-width="2"/>
<text x="1323.3" y="591.75" font-size="16.3" font-weight="normal" text-anchor="end" fill="#111">0.8</text>
<line x1="1395.3" y1="840.6" x2="1395.3" y2="847.8" stroke="#000" stroke-width="2"/>
<text x="1401.3" y="861.5" font-size="16.3" font-weight="bold" text-anchor="end" fill="#000" transform="rotate(-45 1401.3 861.5)">PBS</text>
<line x1="1522.7" y1="840.6" x2="1522.7" y2="847.8" stroke="#000" stroke-width="2"/>
<text x="1528.7" y="861.5" font-size="16.3" font-weight="bold" text-anchor="end" fill="#000" transform="rotate(-45 1528.7 861.5)">Poly(I:C)</text>
<line x1="1649.7" y1="840.6" x2="1649.7" y2="847.8" stroke="#000" stroke-width="2"/>
<text x="1655.7" y="861.5" font-size="16.3" font-weight="bold" text-anchor="end" fill="#000" transform="rotate(-45 1655.7 861.5)">IAV</text>
<text x="1522.7" y="560.4" font-size="21.5" font-weight="bold" text-anchor="middle" fill="#000" textLength="209.6" lengthAdjust="spacingAndGlyphs">MEPs (bone marrow)</text>
<text x="1248" y="713.75" font-size="18" font-weight="bold" text-anchor="middle" fill="#000" transform="rotate(-90 1248 713.75)" textLength="275.5" lengthAdjust="spacingAndGlyphs">Lin<tspan font-size="12.6" dy="-8.64">-</tspan><tspan dy="8.64"> Sca</tspan><tspan font-size="12.6" dy="-8.64">low</tspan><tspan dy="8.64"> cKit</tspan><tspan font-size="12.6" dy="-8.64">+</tspan><tspan dy="8.64"> CD16/32</tspan><tspan font-size="12.6" dy="-8.64">-</tspan><tspan dy="8.64"> CD34</tspan><tspan font-size="12.6" dy="-8.64">-</tspan></text>
<text x="1273.8" y="706.5" font-size="18" font-weight="bold" text-anchor="middle" fill="#000" transform="rotate(-90 1273.8 706.5)" textLength="170.2" lengthAdjust="spacingAndGlyphs">% of Lin<tspan font-size="12.6" dy="-8.64">-</tspan><tspan dy="8.64"> DAPI</tspan><tspan font-size="12.6" dy="-8.64">-</tspan><tspan dy="8.64"> events</tspan></text>
<rect x="161.6" y="1197.7" width="83.8" height="167" fill="#F4A04A" stroke="#1c1c1c" stroke-width="1.35"/>
<rect x="289" y="1184" width="83.8" height="180.7" fill="#F9C189" stroke="#383838" stroke-width="1.35"/>
<rect x="416.3" y="1209.7" width="83.8" height="155" fill="#FCDFC0" stroke="#4a4a4a" stroke-width="1.35"/>
<circle cx="186.3" cy="1159.5" r="4" fill="#F4A04A" stroke="#000" stroke-width="1.2"/>
<circle cx="220.7" cy="1162" r="4" fill="#F4A04A" stroke="#000" stroke-width="1.2"/>
<circle cx="203.5" cy="1165.8" r="4" fill="#F4A04A" stroke="#000" stroke-width="1.2"/>
<circle cx="203.5" cy="1181.6" r="4" fill="#F4A04A" stroke="#000" stroke-width="1.2"/>
<circle cx="194.7" cy="1201.2" r="4" fill="#F4A04A" stroke="#000" stroke-width="1.2"/>
<circle cx="212.3" cy="1201.2" r="4" fill="#F4A04A" stroke="#000" stroke-width="1.2"/>
<circle cx="203.5" cy="1210.7" r="4" fill="#F4A04A" stroke="#000" stroke-width="1.2"/>
<circle cx="203.5" cy="1292.5" r="4" fill="#F4A04A" stroke="#000" stroke-width="1.2"/>
<rect x="309.55" y="1152.85" width="8.3" height="8.3" fill="#F9C189" stroke="#000" stroke-width="1.2"/>
<rect x="326.75" y="1147.65" width="8.3" height="8.3" fill="#F9C189" stroke="#000" stroke-width="1.2"/>
<rect x="343.95" y="1145.85" width="8.3" height="8.3" fill="#F9C189" stroke="#000" stroke-width="1.2"/>
<rect x="309.55" y="1163.35" width="8.3" height="8.3" fill="#F9C189" stroke="#000" stroke-width="1.2"/>
<rect x="326.75" y="1160.95" width="8.3" height="8.3" fill="#F9C189" stroke="#000" stroke-width="1.2"/>
<rect x="343.95" y="1167.95" width="8.3" height="8.3" fill="#F9C189" stroke="#000" stroke-width="1.2"/>
<rect x="326.75" y="1188.35" width="8.3" height="8.3" fill="#F9C189" stroke="#000" stroke-width="1.2"/>
<rect x="326.75" y="1309.35" width="8.3" height="8.3" fill="#F9C189" stroke="#000" stroke-width="1.2"/>
<polygon points="441,1173.75 437.1,1181.05 444.9,1181.05" fill="#FCDFC0" stroke="#000" stroke-width="1.2" stroke-linejoin="miter"/>
<polygon points="475.4,1176.55 471.5,1183.85 479.3,1183.85" fill="#FCDFC0" stroke="#000" stroke-width="1.2" stroke-linejoin="miter"/>
<polygon points="458.2,1179.65 454.3,1186.95 462.1,1186.95" fill="#FCDFC0" stroke="#000" stroke-width="1.2" stroke-linejoin="miter"/>
<polygon points="458.2,1202.85 454.3,1210.15 462.1,1210.15" fill="#FCDFC0" stroke="#000" stroke-width="1.2" stroke-linejoin="miter"/>
<polygon points="441,1221.05 437.1,1228.35 444.9,1228.35" fill="#FCDFC0" stroke="#000" stroke-width="1.2" stroke-linejoin="miter"/>
<polygon points="475.4,1221.05 471.5,1228.35 479.3,1228.35" fill="#FCDFC0" stroke="#000" stroke-width="1.2" stroke-linejoin="miter"/>
<polygon points="458.2,1223.85 454.3,1231.15 462.1,1231.15" fill="#FCDFC0" stroke="#000" stroke-width="1.2" stroke-linejoin="miter"/>
<polygon points="458.2,1249.55 454.3,1256.85 462.1,1256.85" fill="#FCDFC0" stroke="#000" stroke-width="1.2" stroke-linejoin="miter"/>
<line x1="203.5" y1="1153.5" x2="203.5" y2="1240.2" stroke="#1e1e1e" stroke-width="1.35"/>
<line x1="182.3" y1="1153.5" x2="224.7" y2="1153.5" stroke="#1e1e1e" stroke-width="1.35"/>
<line x1="182.3" y1="1240.2" x2="224.7" y2="1240.2" stroke="#1e1e1e" stroke-width="1.35"/>
<line x1="330.9" y1="1129.7" x2="330.9" y2="1238" stroke="#1e1e1e" stroke-width="1.35"/>
<line x1="309.7" y1="1129.7" x2="352.1" y2="1129.7" stroke="#1e1e1e" stroke-width="1.35"/>
<line x1="309.7" y1="1238" x2="352.1" y2="1238" stroke="#1e1e1e" stroke-width="1.35"/>
<line x1="458.2" y1="1181.2" x2="458.2" y2="1236.3" stroke="#1e1e1e" stroke-width="1.35"/>
<line x1="437" y1="1181.2" x2="479.4" y2="1181.2" stroke="#1e1e1e" stroke-width="1.35"/>
<line x1="437" y1="1236.3" x2="479.4" y2="1236.3" stroke="#1e1e1e" stroke-width="1.35"/>
<line x1="140" y1="1109.4" x2="140" y2="1365.8" stroke="#000" stroke-width="2.2"/>
<line x1="138.9" y1="1364.7" x2="522.8" y2="1364.7" stroke="#000" stroke-width="2.2"/>
<line x1="133.4" y1="1364.7" x2="140" y2="1364.7" stroke="#000" stroke-width="2"/>
<text x="131.5" y="1370.15" font-size="16.3" font-weight="normal" text-anchor="end" fill="#111">50</text>
<line x1="133.4" y1="1313.84" x2="140" y2="1313.84" stroke="#000" stroke-width="2"/>
<text x="131.5" y="1319.29" font-size="16.3" font-weight="normal" text-anchor="end" fill="#111">55</text>
<line x1="133.4" y1="1262.98" x2="140" y2="1262.98" stroke="#000" stroke-width="2"/>
<text x="131.5" y="1268.43" font-size="16.3" font-weight="normal" text-anchor="end" fill="#111">60</text>
<line x1="133.4" y1="1212.12" x2="140" y2="1212.12" stroke="#000" stroke-width="2"/>
<text x="131.5" y="1217.57" font-size="16.3" font-weight="normal" text-anchor="end" fill="#111">65</text>
<line x1="133.4" y1="1161.26" x2="140" y2="1161.26" stroke="#000" stroke-width="2"/>
<text x="131.5" y="1166.71" font-size="16.3" font-weight="normal" text-anchor="end" fill="#111">70</text>
<line x1="133.4" y1="1110.4" x2="140" y2="1110.4" stroke="#000" stroke-width="2"/>
<text x="131.5" y="1115.85" font-size="16.3" font-weight="normal" text-anchor="end" fill="#111">75</text>
<line x1="203.5" y1="1364.7" x2="203.5" y2="1371.9" stroke="#000" stroke-width="2"/>
<text x="209.5" y="1385.6" font-size="16.3" font-weight="bold" text-anchor="end" fill="#000" transform="rotate(-45 209.5 1385.6)">PBS</text>
<line x1="330.9" y1="1364.7" x2="330.9" y2="1371.9" stroke="#000" stroke-width="2"/>
<text x="336.9" y="1385.6" font-size="16.3" font-weight="bold" text-anchor="end" fill="#000" transform="rotate(-45 336.9 1385.6)">Poly(I:C)</text>
<line x1="458.2" y1="1364.7" x2="458.2" y2="1371.9" stroke="#000" stroke-width="2"/>
<text x="464.2" y="1385.6" font-size="16.3" font-weight="bold" text-anchor="end" fill="#000" transform="rotate(-45 464.2 1385.6)">IAV</text>
<text x="331.55" y="1083.7" font-size="21.5" font-weight="bold" text-anchor="middle" fill="#000" textLength="153.5" lengthAdjust="spacingAndGlyphs">B cells (spleen)</text>
<text x="65.2" y="1237.55" font-size="18" font-weight="bold" text-anchor="middle" fill="#000" transform="rotate(-90 65.2 1237.55)" textLength="49.9" lengthAdjust="spacingAndGlyphs">B220<tspan font-size="12.6" dy="-8.64">+</tspan></text>
<text x="87" y="1236.95" font-size="18" font-weight="bold" text-anchor="middle" fill="#000" transform="rotate(-90 87 1236.95)" textLength="177.7" lengthAdjust="spacingAndGlyphs">% of alive leukocytes</text>
<rect x="757.8" y="1291.4" width="83.8" height="73.3" fill="#F4A04A" stroke="#1c1c1c" stroke-width="1.35"/>
<rect x="884.8" y="1247.9" width="83.8" height="116.8" fill="#F9C189" stroke="#383838" stroke-width="1.35"/>
<rect x="1012.1" y="1205.4" width="83.8" height="159.3" fill="#FCDFC0" stroke="#4a4a4a" stroke-width="1.35"/>
<circle cx="799.7" cy="1258.1" r="4" fill="#F4A04A" stroke="#000" stroke-width="1.2"/>
<circle cx="782.5" cy="1279.8" r="4" fill="#F4A04A" stroke="#000" stroke-width="1.2"/>
<circle cx="799.7" cy="1278.4" r="4" fill="#F4A04A" stroke="#000" stroke-width="1.2"/>
<circle cx="799.7" cy="1287.2" r="4" fill="#F4A04A" stroke="#000" stroke-width="1.2"/>
<circle cx="816.8" cy="1297.7" r="4" fill="#F4A04A" stroke="#000" stroke-width="1.2"/>
<circle cx="799.7" cy="1305.4" r="4" fill="#F4A04A" stroke="#000" stroke-width="1.2"/>
<circle cx="816.8" cy="1307.9" r="4" fill="#F4A04A" stroke="#000" stroke-width="1.2"/>
<circle cx="782.5" cy="1311.4" r="4" fill="#F4A04A" stroke="#000" stroke-width="1.2"/>
<rect x="922.55" y="1213.55" width="8.3" height="8.3" fill="#F9C189" stroke="#000" stroke-width="1.2"/>
<rect x="914.05" y="1226.85" width="8.3" height="8.3" fill="#F9C189" stroke="#000" stroke-width="1.2"/>
<rect x="931.25" y="1232.15" width="8.3" height="8.3" fill="#F9C189" stroke="#000" stroke-width="1.2"/>
<rect x="914.05" y="1238.85" width="8.3" height="8.3" fill="#F9C189" stroke="#000" stroke-width="1.2"/>
<rect x="931.25" y="1244.05" width="8.3" height="8.3" fill="#F9C189" stroke="#000" stroke-width="1.2"/>
<rect x="914.05" y="1247.95" width="8.3" height="8.3" fill="#F9C189" stroke="#000" stroke-width="1.2"/>
<rect x="931.25" y="1254.95" width="8.3" height="8.3" fill="#F9C189" stroke="#000" stroke-width="1.2"/>
<rect x="922.55" y="1286.55" width="8.3" height="8.3" fill="#F9C189" stroke="#000" stroke-width="1.2"/>
<polygon points="1054,1160.35 1050.1,1167.65 1057.9,1167.65" fill="#FCDFC0" stroke="#000" stroke-width="1.2" stroke-linejoin="miter"/>
<polygon points="1054,1186.05 1050.1,1193.35 1057.9,1193.35" fill="#FCDFC0" stroke="#000" stroke-width="1.2" stroke-linejoin="miter"/>
<polygon points="1071.3,1198.95 1067.4,1206.25 1075.2,1206.25" fill="#FCDFC0" stroke="#000" stroke-width="1.2" stroke-linejoin="miter"/>
<polygon points="1036.8,1206.35 1032.9,1213.65 1040.7,1213.65" fill="#FCDFC0" stroke="#000" stroke-width="1.2" stroke-linejoin="miter"/>
<polygon points="1054,1205.35 1050.1,1212.65 1057.9,1212.65" fill="#FCDFC0" stroke="#000" stroke-width="1.2" stroke-linejoin="miter"/>
<polygon points="1071.3,1212.35 1067.4,1219.65 1075.2,1219.65" fill="#FCDFC0" stroke="#000" stroke-width="1.2" stroke-linejoin="miter"/>
<polygon points="1054,1215.85 1050.1,1223.15 1057.9,1223.15" fill="#FCDFC0" stroke="#000" stroke-width="1.2" stroke-linejoin="miter"/>
<polygon points="1054,1229.15 1050.1,1236.45 1057.9,1236.45" fill="#FCDFC0" stroke="#000" stroke-width="1.2" stroke-linejoin="miter"/>
<line x1="799.7" y1="1272.1" x2="799.7" y2="1308.9" stroke="#1e1e1e" stroke-width="1.35"/>
<line x1="778.5" y1="1272.1" x2="820.9" y2="1272.1" stroke="#1e1e1e" stroke-width="1.35"/>
<line x1="778.5" y1="1308.9" x2="820.9" y2="1308.9" stroke="#1e1e1e" stroke-width="1.35"/>
<line x1="926.7" y1="1225.4" x2="926.7" y2="1269.7" stroke="#1e1e1e" stroke-width="1.35"/>
<line x1="905.5" y1="1225.4" x2="947.9" y2="1225.4" stroke="#1e1e1e" stroke-width="1.35"/>
<line x1="905.5" y1="1269.7" x2="947.9" y2="1269.7" stroke="#1e1e1e" stroke-width="1.35"/>
<line x1="1054" y1="1184" x2="1054" y2="1226.5" stroke="#1e1e1e" stroke-width="1.35"/>
<line x1="1032.8" y1="1184" x2="1075.2" y2="1184" stroke="#1e1e1e" stroke-width="1.35"/>
<line x1="1032.8" y1="1226.5" x2="1075.2" y2="1226.5" stroke="#1e1e1e" stroke-width="1.35"/>
<line x1="736" y1="1109.4" x2="736" y2="1365.8" stroke="#000" stroke-width="2.2"/>
<line x1="734.9" y1="1364.7" x2="1118.6" y2="1364.7" stroke="#000" stroke-width="2.2"/>
<line x1="729.4" y1="1364.7" x2="736" y2="1364.7" stroke="#000" stroke-width="2"/>
<text x="727.5" y="1370.15" font-size="16.3" font-weight="normal" text-anchor="end" fill="#111">1.0</text>
<line x1="729.4" y1="1301.12" x2="736" y2="1301.12" stroke="#000" stroke-width="2"/>
<text x="727.5" y="1306.58" font-size="16.3" font-weight="normal" text-anchor="end" fill="#111">1.5</text>
<line x1="729.4" y1="1237.55" x2="736" y2="1237.55" stroke="#000" stroke-width="2"/>
<text x="727.5" y="1243" font-size="16.3" font-weight="normal" text-anchor="end" fill="#111">2.0</text>
<line x1="729.4" y1="1173.98" x2="736" y2="1173.98" stroke="#000" stroke-width="2"/>
<text x="727.5" y="1179.43" font-size="16.3" font-weight="normal" text-anchor="end" fill="#111">2.5</text>
<line x1="729.4" y1="1110.4" x2="736" y2="1110.4" stroke="#000" stroke-width="2"/>
<text x="727.5" y="1115.85" font-size="16.3" font-weight="normal" text-anchor="end" fill="#111">3.0</text>
<line x1="799.7" y1="1364.7" x2="799.7" y2="1371.9" stroke="#000" stroke-width="2"/>
<text x="805.7" y="1385.6" font-size="16.3" font-weight="bold" text-anchor="end" fill="#000" transform="rotate(-45 805.7 1385.6)">PBS</text>
<line x1="926.7" y1="1364.7" x2="926.7" y2="1371.9" stroke="#000" stroke-width="2"/>
<text x="932.7" y="1385.6" font-size="16.3" font-weight="bold" text-anchor="end" fill="#000" transform="rotate(-45 932.7 1385.6)">Poly(I:C)</text>
<line x1="1054" y1="1364.7" x2="1054" y2="1371.9" stroke="#000" stroke-width="2"/>
<text x="1060" y="1385.6" font-size="16.3" font-weight="bold" text-anchor="end" fill="#000" transform="rotate(-45 1060 1385.6)">IAV</text>
<polyline points="799.7,1181.9 799.7,1171.4 926.7,1171.4 926.7,1181.9" fill="none" stroke="#555555" stroke-width="1.3"/>
<text x="863.2" y="1161.2" font-size="15.5" font-weight="bold" text-anchor="middle" fill="#000" font-family="DejaVu Sans, sans-serif" style="font-family:'DejaVu Sans',sans-serif">∗∗∗</text>
<polyline points="799.7,1142.6 799.7,1132.1 1054,1132.1 1054,1142.6" fill="none" stroke="#555555" stroke-width="1.3"/>
<text x="926.85" y="1121.9" font-size="15.5" font-weight="bold" text-anchor="middle" fill="#000" font-family="DejaVu Sans, sans-serif" style="font-family:'DejaVu Sans',sans-serif">∗∗∗</text>
<text x="926.7" y="1083.3" font-size="21.5" font-weight="bold" text-anchor="middle" fill="#000" textLength="166.8" lengthAdjust="spacingAndGlyphs">NK cells (spleen)</text>
<text x="656.1" y="1237.5" font-size="18" font-weight="bold" text-anchor="middle" fill="#000" transform="rotate(-90 656.1 1237.5)" textLength="66.8" lengthAdjust="spacingAndGlyphs">CD49b+</text>
<text x="677.6" y="1257" font-size="18" font-weight="bold" text-anchor="middle" fill="#000" transform="rotate(-90 677.6 1257)" textLength="217" lengthAdjust="spacingAndGlyphs">% of alive leukocytes</text>
<rect x="1353.4" y="1278.8" width="83.8" height="85.9" fill="#F4A04A" stroke="#1c1c1c" stroke-width="1.35"/>
<rect x="1480.8" y="1270" width="83.8" height="94.7" fill="#F9C189" stroke="#383838" stroke-width="1.35"/>
<rect x="1607.8" y="1232.5" width="83.8" height="132.2" fill="#FCDFC0" stroke="#4a4a4a" stroke-width="1.35"/>
<circle cx="1386.9" cy="1223.7" r="4" fill="#F4A04A" stroke="#000" stroke-width="1.2"/>
<circle cx="1404.1" cy="1222.3" r="4" fill="#F4A04A" stroke="#000" stroke-width="1.2"/>
<circle cx="1395.3" cy="1245.1" r="4" fill="#F4A04A" stroke="#000" stroke-width="1.2"/>
<circle cx="1395.3" cy="1253.9" r="4" fill="#F4A04A" stroke="#000" stroke-width="1.2"/>
<circle cx="1404.1" cy="1302.6" r="4" fill="#F4A04A" stroke="#000" stroke-width="1.2"/>
<circle cx="1386.9" cy="1307.2" r="4" fill="#F4A04A" stroke="#000" stroke-width="1.2"/>
<circle cx="1395.3" cy="1320.2" r="4" fill="#F4A04A" stroke="#000" stroke-width="1.2"/>
<circle cx="1395.3" cy="1349.3" r="4" fill="#F4A04A" stroke="#000" stroke-width="1.2"/>
<rect x="1518.55" y="1160.25" width="8.3" height="8.3" fill="#F9C189" stroke="#000" stroke-width="1.2"/>
<rect x="1518.55" y="1215.35" width="8.3" height="8.3" fill="#F9C189" stroke="#000" stroke-width="1.2"/>
<rect x="1518.55" y="1258.85" width="8.3" height="8.3" fill="#F9C189" stroke="#000" stroke-width="1.2"/>
<rect x="1509.85" y="1276.75" width="8.3" height="8.3" fill="#F9C189" stroke="#000" stroke-width="1.2"/>
<rect x="1509.85" y="1285.55" width="8.3" height="8.3" fill="#F9C189" stroke="#000" stroke-width="1.2"/>
<rect x="1526.95" y="1283.05" width="8.3" height="8.3" fill="#F9C189" stroke="#000" stroke-width="1.2"/>
<rect x="1518.55" y="1297.75" width="8.3" height="8.3" fill="#F9C189" stroke="#000" stroke-width="1.2"/>
<rect x="1518.55" y="1344.45" width="8.3" height="8.3" fill="#F9C189" stroke="#000" stroke-width="1.2"/>
<polygon points="1649.7,1150.95 1645.8,1158.25 1653.6,1158.25" fill="#FCDFC0" stroke="#000" stroke-width="1.2" stroke-linejoin="miter"/>
<polygon points="1649.7,1188.45 1645.8,1195.75 1653.6,1195.75" fill="#FCDFC0" stroke="#000" stroke-width="1.2" stroke-linejoin="miter"/>
<polygon points="1649.7,1205.35 1645.8,1212.65 1653.6,1212.65" fill="#FCDFC0" stroke="#000" stroke-width="1.2" stroke-linejoin="miter"/>
<polygon points="1649.7,1216.85 1645.8,1224.15 1653.6,1224.15" fill="#FCDFC0" stroke="#000" stroke-width="1.2" stroke-linejoin="miter"/>
<polygon points="1649.7,1239.65 1645.8,1246.95 1653.6,1246.95" fill="#FCDFC0" stroke="#000" stroke-width="1.2" stroke-linejoin="miter"/>
<polygon points="1641.7,1268.45 1637.8,1275.75 1645.6,1275.75" fill="#FCDFC0" stroke="#000" stroke-width="1.2" stroke-linejoin="miter"/>
<polygon points="1658.5,1277.25 1654.6,1284.55 1662.4,1284.55" fill="#FCDFC0" stroke="#000" stroke-width="1.2" stroke-linejoin="miter"/>
<polygon points="1641.7,1281.75 1637.8,1289.05 1645.6,1289.05" fill="#FCDFC0" stroke="#000" stroke-width="1.2" stroke-linejoin="miter"/>
<line x1="1395.3" y1="1230" x2="1395.3" y2="1325.8" stroke="#1e1e1e" stroke-width="1.35"/>
<line x1="1374.1" y1="1230" x2="1416.5" y2="1230" stroke="#1e1e1e" stroke-width="1.35"/>
<line x1="1374.1" y1="1325.8" x2="1416.5" y2="1325.8" stroke="#1e1e1e" stroke-width="1.35"/>
<line x1="1522.7" y1="1213.5" x2="1522.7" y2="1325.1" stroke="#1e1e1e" stroke-width="1.35"/>
<line x1="1501.5" y1="1213.5" x2="1543.9" y2="1213.5" stroke="#1e1e1e" stroke-width="1.35"/>
<line x1="1501.5" y1="1325.1" x2="1543.9" y2="1325.1" stroke="#1e1e1e" stroke-width="1.35"/>
<line x1="1649.7" y1="1184.7" x2="1649.7" y2="1278.4" stroke="#1e1e1e" stroke-width="1.35"/>
<line x1="1628.5" y1="1184.7" x2="1670.9" y2="1184.7" stroke="#1e1e1e" stroke-width="1.35"/>
<line x1="1628.5" y1="1278.4" x2="1670.9" y2="1278.4" stroke="#1e1e1e" stroke-width="1.35"/>
<line x1="1331.8" y1="1109.4" x2="1331.8" y2="1365.8" stroke="#000" stroke-width="2.2"/>
<line x1="1330.7" y1="1364.7" x2="1714.6" y2="1364.7" stroke="#000" stroke-width="2.2"/>
<line x1="1325.2" y1="1364.7" x2="1331.8" y2="1364.7" stroke="#000" stroke-width="2"/>
<text x="1323.3" y="1370.15" font-size="16.3" font-weight="normal" text-anchor="end" fill="#111">1.0</text>
<line x1="1325.2" y1="1313.84" x2="1331.8" y2="1313.84" stroke="#000" stroke-width="2"/>
<text x="1323.3" y="1319.29" font-size="16.3" font-weight="normal" text-anchor="end" fill="#111">1.2</text>
<line x1="1325.2" y1="1262.98" x2="1331.8" y2="1262.98" stroke="#000" stroke-width="2"/>
<text x="1323.3" y="1268.43" font-size="16.3" font-weight="normal" text-anchor="end" fill="#111">1.4</text>
<line x1="1325.2" y1="1212.12" x2="1331.8" y2="1212.12" stroke="#000" stroke-width="2"/>
<text x="1323.3" y="1217.57" font-size="16.3" font-weight="normal" text-anchor="end" fill="#111">1.6</text>
<line x1="1325.2" y1="1161.26" x2="1331.8" y2="1161.26" stroke="#000" stroke-width="2"/>
<text x="1323.3" y="1166.71" font-size="16.3" font-weight="normal" text-anchor="end" fill="#111">1.8</text>
<line x1="1325.2" y1="1110.4" x2="1331.8" y2="1110.4" stroke="#000" stroke-width="2"/>
<text x="1323.3" y="1115.85" font-size="16.3" font-weight="normal" text-anchor="end" fill="#111">2.0</text>
<line x1="1395.3" y1="1364.7" x2="1395.3" y2="1371.9" stroke="#000" stroke-width="2"/>
<text x="1401.3" y="1385.6" font-size="16.3" font-weight="bold" text-anchor="end" fill="#000" transform="rotate(-45 1401.3 1385.6)">PBS</text>
<line x1="1522.7" y1="1364.7" x2="1522.7" y2="1371.9" stroke="#000" stroke-width="2"/>
<text x="1528.7" y="1385.6" font-size="16.3" font-weight="bold" text-anchor="end" fill="#000" transform="rotate(-45 1528.7 1385.6)">Poly(I:C)</text>
<line x1="1649.7" y1="1364.7" x2="1649.7" y2="1371.9" stroke="#000" stroke-width="2"/>
<text x="1655.7" y="1385.6" font-size="16.3" font-weight="bold" text-anchor="end" fill="#000" transform="rotate(-45 1655.7 1385.6)">IAV</text>
<text x="1438.8" y="1079.2" font-size="21.5" font-weight="bold" text-anchor="middle" fill="#000" textLength="12.7" lengthAdjust="spacingAndGlyphs">T</text>
<text x="1462.05" y="1083.8" font-size="14.5" font-weight="bold" text-anchor="middle" fill="#000" textLength="31.3" lengthAdjust="spacingAndGlyphs">Reg</text>
<text x="1547.65" y="1079.2" font-size="21.5" font-weight="bold" text-anchor="middle" fill="#000" textLength="131.5" lengthAdjust="spacingAndGlyphs">cells (spleen)</text>
<text x="1252.4" y="1224.8" font-size="18" font-weight="bold" text-anchor="middle" fill="#000" transform="rotate(-90 1252.4 1224.8)" textLength="192.6" lengthAdjust="spacingAndGlyphs">CD3<tspan font-size="12.6" dy="-8.64">+</tspan><tspan dy="8.64"> CD4</tspan><tspan font-size="12.6" dy="-8.64">+</tspan><tspan dy="8.64"> CD25</tspan><tspan font-size="12.6" dy="-8.64">+</tspan><tspan dy="8.64"> FoxP3</tspan><tspan font-size="12.6" dy="-8.64">+</tspan></text>
<text x="1273.9" y="1235.75" font-size="18" font-weight="bold" text-anchor="middle" fill="#000" transform="rotate(-90 1273.9 1235.75)" textLength="130.3" lengthAdjust="spacingAndGlyphs">% of CD3+ cells</text>
<rect x="161.6" y="1739" width="83.8" height="149.8" fill="#F4A04A" stroke="#1c1c1c" stroke-width="1.35"/>
<rect x="289" y="1775.1" width="83.8" height="113.7" fill="#F9C189" stroke="#383838" stroke-width="1.35"/>
<rect x="416.3" y="1816.5" width="83.8" height="72.3" fill="#FCDFC0" stroke="#4a4a4a" stroke-width="1.35"/>
<circle cx="203.5" cy="1690.5" r="4" fill="#F4A04A" stroke="#000" stroke-width="1.2"/>
<circle cx="203.5" cy="1707.4" r="4" fill="#F4A04A" stroke="#000" stroke-width="1.2"/>
<circle cx="186.3" cy="1746.7" r="4" fill="#F4A04A" stroke="#000" stroke-width="1.2"/>
<circle cx="203.5" cy="1741.8" r="4" fill="#F4A04A" stroke="#000" stroke-width="1.2"/>
<circle cx="220.7" cy="1739.3" r="4" fill="#F4A04A" stroke="#000" stroke-width="1.2"/>
<circle cx="220.7" cy="1748.4" r="4" fill="#F4A04A" stroke="#000" stroke-width="1.2"/>
<circle cx="203.5" cy="1755.4" r="4" fill="#F4A04A" stroke="#000" stroke-width="1.2"/>
<circle cx="203.5" cy="1775.1" r="4" fill="#F4A04A" stroke="#000" stroke-width="1.2"/>
<rect x="326.75" y="1746.05" width="8.3" height="8.3" fill="#F9C189" stroke="#000" stroke-width="1.2"/>
<rect x="309.55" y="1755.55" width="8.3" height="8.3" fill="#F9C189" stroke="#000" stroke-width="1.2"/>
<rect x="326.75" y="1762.15" width="8.3" height="8.3" fill="#F9C189" stroke="#000" stroke-width="1.2"/>
<rect x="343.95" y="1762.15" width="8.3" height="8.3" fill="#F9C189" stroke="#000" stroke-width="1.2"/>
<rect x="309.55" y="1767.45" width="8.3" height="8.3" fill="#F9C189" stroke="#000" stroke-width="1.2"/>
<rect x="343.95" y="1770.55" width="8.3" height="8.3" fill="#F9C189" stroke="#000" stroke-width="1.2"/>
<rect x="326.75" y="1776.95" width="8.3" height="8.3" fill="#F9C189" stroke="#000" stroke-width="1.2"/>
<rect x="326.75" y="1821.45" width="8.3" height="8.3" fill="#F9C189" stroke="#000" stroke-width="1.2"/>
<polygon points="466.7,1790.75 462.8,1798.05 470.6,1798.05" fill="#FCDFC0" stroke="#000" stroke-width="1.2" stroke-linejoin="miter"/>
<polygon points="449.5,1797.35 445.6,1804.65 453.4,1804.65" fill="#FCDFC0" stroke="#000" stroke-width="1.2" stroke-linejoin="miter"/>
<polygon points="449.5,1806.15 445.6,1813.45 453.4,1813.45" fill="#FCDFC0" stroke="#000" stroke-width="1.2" stroke-linejoin="miter"/>
<polygon points="449.5,1814.95 445.6,1822.25 453.4,1822.25" fill="#FCDFC0" stroke="#000" stroke-width="1.2" stroke-linejoin="miter"/>
<polygon points="466.7,1813.15 462.8,1820.45 470.6,1820.45" fill="#FCDFC0" stroke="#000" stroke-width="1.2" stroke-linejoin="miter"/>
<polygon points="466.7,1827.55 462.8,1834.85 470.6,1834.85" fill="#FCDFC0" stroke="#000" stroke-width="1.2" stroke-linejoin="miter"/>
<polygon points="449.5,1836.05 445.6,1843.35 453.4,1843.35" fill="#FCDFC0" stroke="#000" stroke-width="1.2" stroke-linejoin="miter"/>
<line x1="203.5" y1="1711.2" x2="203.5" y2="1764.9" stroke="#1e1e1e" stroke-width="1.35"/>
<line x1="182.3" y1="1711.2" x2="224.7" y2="1711.2" stroke="#1e1e1e" stroke-width="1.35"/>
<line x1="182.3" y1="1764.9" x2="224.7" y2="1764.9" stroke="#1e1e1e" stroke-width="1.35"/>
<line x1="330.9" y1="1751.9" x2="330.9" y2="1797.5" stroke="#1e1e1e" stroke-width="1.35"/>
<line x1="309.7" y1="1751.9" x2="352.1" y2="1751.9" stroke="#1e1e1e" stroke-width="1.35"/>
<line x1="309.7" y1="1797.5" x2="352.1" y2="1797.5" stroke="#1e1e1e" stroke-width="1.35"/>
<line x1="458.2" y1="1799.6" x2="458.2" y2="1831.6" stroke="#1e1e1e" stroke-width="1.35"/>
<line x1="437" y1="1799.6" x2="479.4" y2="1799.6" stroke="#1e1e1e" stroke-width="1.35"/>
<line x1="437" y1="1831.6" x2="479.4" y2="1831.6" stroke="#1e1e1e" stroke-width="1.35"/>
<line x1="140" y1="1633.4" x2="140" y2="1889.9" stroke="#000" stroke-width="2.2"/>
<line x1="138.9" y1="1888.8" x2="522.8" y2="1888.8" stroke="#000" stroke-width="2.2"/>
<line x1="133.4" y1="1888.8" x2="140" y2="1888.8" stroke="#000" stroke-width="2"/>
<text x="131.5" y="1894.25" font-size="16.3" font-weight="normal" text-anchor="end" fill="#111">0</text>
<line x1="133.4" y1="1837.92" x2="140" y2="1837.92" stroke="#000" stroke-width="2"/>
<text x="131.5" y="1843.37" font-size="16.3" font-weight="normal" text-anchor="end" fill="#111">2</text>
<line x1="133.4" y1="1787.04" x2="140" y2="1787.04" stroke="#000" stroke-width="2"/>
<text x="131.5" y="1792.49" font-size="16.3" font-weight="normal" text-anchor="end" fill="#111">4</text>
<line x1="133.4" y1="1736.16" x2="140" y2="1736.16" stroke="#000" stroke-width="2"/>
<text x="131.5" y="1741.61" font-size="16.3" font-weight="normal" text-anchor="end" fill="#111">6</text>
<line x1="133.4" y1="1685.28" x2="140" y2="1685.28" stroke="#000" stroke-width="2"/>
<text x="131.5" y="1690.73" font-size="16.3" font-weight="normal" text-anchor="end" fill="#111">8</text>
<line x1="133.4" y1="1634.4" x2="140" y2="1634.4" stroke="#000" stroke-width="2"/>
<text x="131.5" y="1639.85" font-size="16.3" font-weight="normal" text-anchor="end" fill="#111">10</text>
<line x1="203.5" y1="1888.8" x2="203.5" y2="1896" stroke="#000" stroke-width="2"/>
<text x="209.5" y="1909.7" font-size="16.3" font-weight="bold" text-anchor="end" fill="#000" transform="rotate(-45 209.5 1909.7)">PBS</text>
<line x1="330.9" y1="1888.8" x2="330.9" y2="1896" stroke="#000" stroke-width="2"/>
<text x="336.9" y="1909.7" font-size="16.3" font-weight="bold" text-anchor="end" fill="#000" transform="rotate(-45 336.9 1909.7)">Poly(I:C)</text>
<line x1="458.2" y1="1888.8" x2="458.2" y2="1896" stroke="#000" stroke-width="2"/>
<text x="464.2" y="1909.7" font-size="16.3" font-weight="bold" text-anchor="end" fill="#000" transform="rotate(-45 464.2 1909.7)">IAV</text>
<polyline points="203.5,1679.3 203.5,1669 330.9,1669 330.9,1679.3" fill="none" stroke="#555555" stroke-width="1.3"/>
<text x="267.2" y="1659.6" font-size="15.5" font-weight="bold" text-anchor="middle" fill="#000" font-family="DejaVu Sans, sans-serif" style="font-family:'DejaVu Sans',sans-serif">∗</text>
<polyline points="203.5,1651.2 203.5,1641 458.2,1641 458.2,1651.2" fill="none" stroke="#555555" stroke-width="1.3"/>
<text x="330.85" y="1631.6" font-size="15.5" font-weight="bold" text-anchor="middle" fill="#000" font-family="DejaVu Sans, sans-serif" style="font-family:'DejaVu Sans',sans-serif">∗∗∗</text>
<text x="331.4" y="1607.4" font-size="21.5" font-weight="bold" text-anchor="middle" fill="#000" textLength="130.6" lengthAdjust="spacingAndGlyphs">B cells (lung)</text>
<text x="65.2" y="1761.4" font-size="18" font-weight="bold" text-anchor="middle" fill="#000" transform="rotate(-90 65.2 1761.4)" textLength="49.8" lengthAdjust="spacingAndGlyphs">B220<tspan font-size="12.6" dy="-8.64">+</tspan></text>
<text x="86.9" y="1761.05" font-size="18" font-weight="bold" text-anchor="middle" fill="#000" transform="rotate(-90 86.9 1761.05)" textLength="178.1" lengthAdjust="spacingAndGlyphs">% of alive leukocytes</text>
<rect x="766.5" y="1756.8" width="83.8" height="132" fill="#F4A04A" stroke="#1c1c1c" stroke-width="1.35"/>
<rect x="893.9" y="1791.6" width="83.8" height="97.2" fill="#F9C189" stroke="#383838" stroke-width="1.35"/>
<rect x="1021.3" y="1844.6" width="83.8" height="44.2" fill="#FCDFC0" stroke="#4a4a4a" stroke-width="1.35"/>
<circle cx="800" cy="1668.1" r="4" fill="#F4A04A" stroke="#000" stroke-width="1.2"/>
<circle cx="817.2" cy="1667.4" r="4" fill="#F4A04A" stroke="#000" stroke-width="1.2"/>
<circle cx="808.4" cy="1694.4" r="4" fill="#F4A04A" stroke="#000" stroke-width="1.2"/>
<circle cx="808.4" cy="1709.1" r="4" fill="#F4A04A" stroke="#000" stroke-width="1.2"/>
<circle cx="808.4" cy="1792.3" r="4" fill="#F4A04A" stroke="#000" stroke-width="1.2"/>
<circle cx="800" cy="1831.9" r="4" fill="#F4A04A" stroke="#000" stroke-width="1.2"/>
<circle cx="817.2" cy="1837.9" r="4" fill="#F4A04A" stroke="#000" stroke-width="1.2"/>
<circle cx="808.4" cy="1849.5" r="4" fill="#F4A04A" stroke="#000" stroke-width="1.2"/>
<rect x="931.65" y="1738.65" width="8.3" height="8.3" fill="#F9C189" stroke="#000" stroke-width="1.2"/>
<rect x="922.85" y="1771.65" width="8.3" height="8.3" fill="#F9C189" stroke="#000" stroke-width="1.2"/>
<rect x="940.45" y="1777.65" width="8.3" height="8.3" fill="#F9C189" stroke="#000" stroke-width="1.2"/>
<rect x="922.85" y="1782.15" width="8.3" height="8.3" fill="#F9C189" stroke="#000" stroke-width="1.2"/>
<rect x="940.45" y="1789.15" width="8.3" height="8.3" fill="#F9C189" stroke="#000" stroke-width="1.2"/>
<rect x="922.85" y="1795.85" width="8.3" height="8.3" fill="#F9C189" stroke="#000" stroke-width="1.2"/>
<rect x="940.45" y="1797.95" width="8.3" height="8.3" fill="#F9C189" stroke="#000" stroke-width="1.2"/>
<rect x="931.65" y="1841.85" width="8.3" height="8.3" fill="#F9C189" stroke="#000" stroke-width="1.2"/>
<polygon points="1063.2,1788.95 1059.3,1796.25 1067.1,1796.25" fill="#FCDFC0" stroke="#000" stroke-width="1.2" stroke-linejoin="miter"/>
<polygon points="1063.2,1814.25 1059.3,1821.55 1067.1,1821.55" fill="#FCDFC0" stroke="#000" stroke-width="1.2" stroke-linejoin="miter"/>
<polygon points="1045.6,1832.45 1041.7,1839.75 1049.5,1839.75" fill="#FCDFC0" stroke="#000" stroke-width="1.2" stroke-linejoin="miter"/>
<polygon points="1063.2,1838.15 1059.3,1845.45 1067.1,1845.45" fill="#FCDFC0" stroke="#000" stroke-width="1.2" stroke-linejoin="miter"/>
<polygon points="1045.6,1858.85 1041.7,1866.15 1049.5,1866.15" fill="#FCDFC0" stroke="#000" stroke-width="1.2" stroke-linejoin="miter"/>
<polygon points="1063.2,1861.65 1059.3,1868.95 1067.1,1868.95" fill="#FCDFC0" stroke="#000" stroke-width="1.2" stroke-linejoin="miter"/>
<polygon points="1080.4,1865.15 1076.5,1872.45 1084.3,1872.45" fill="#FCDFC0" stroke="#000" stroke-width="1.2" stroke-linejoin="miter"/>
<polygon points="1045.6,1870.35 1041.7,1877.65 1049.5,1877.65" fill="#FCDFC0" stroke="#000" stroke-width="1.2" stroke-linejoin="miter"/>
<line x1="808.4" y1="1677.2" x2="808.4" y2="1835.8" stroke="#1e1e1e" stroke-width="1.35"/>
<line x1="787.2" y1="1677.2" x2="829.6" y2="1677.2" stroke="#1e1e1e" stroke-width="1.35"/>
<line x1="787.2" y1="1835.8" x2="829.6" y2="1835.8" stroke="#1e1e1e" stroke-width="1.35"/>
<line x1="935.8" y1="1762.1" x2="935.8" y2="1820" stroke="#1e1e1e" stroke-width="1.35"/>
<line x1="914.6" y1="1762.1" x2="957" y2="1762.1" stroke="#1e1e1e" stroke-width="1.35"/>
<line x1="914.6" y1="1820" x2="957" y2="1820" stroke="#1e1e1e" stroke-width="1.35"/>
<line x1="1063.2" y1="1815.4" x2="1063.2" y2="1872.3" stroke="#1e1e1e" stroke-width="1.35"/>
<line x1="1042" y1="1815.4" x2="1084.4" y2="1815.4" stroke="#1e1e1e" stroke-width="1.35"/>
<line x1="1042" y1="1872.3" x2="1084.4" y2="1872.3" stroke="#1e1e1e" stroke-width="1.35"/>
<line x1="744.6" y1="1633.4" x2="744.6" y2="1889.9" stroke="#000" stroke-width="2.2"/>
<line x1="743.5" y1="1888.8" x2="1127.4" y2="1888.8" stroke="#000" stroke-width="2.2"/>
<line x1="738" y1="1888.8" x2="744.6" y2="1888.8" stroke="#000" stroke-width="2"/>
<text x="736.1" y="1894.25" font-size="16.3" font-weight="normal" text-anchor="end" fill="#111">0</text>
<line x1="738" y1="1804" x2="744.6" y2="1804" stroke="#000" stroke-width="2"/>
<text x="736.1" y="1809.45" font-size="16.3" font-weight="normal" text-anchor="end" fill="#111">1</text>
<line x1="738" y1="1719.2" x2="744.6" y2="1719.2" stroke="#000" stroke-width="2"/>
<text x="736.1" y="1724.65" font-size="16.3" font-weight="normal" text-anchor="end" fill="#111">2</text>
<line x1="738" y1="1634.4" x2="744.6" y2="1634.4" stroke="#000" stroke-width="2"/>
<text x="736.1" y="1639.85" font-size="16.3" font-weight="normal" text-anchor="end" fill="#111">3</text>
<line x1="808.4" y1="1888.8" x2="808.4" y2="1896" stroke="#000" stroke-width="2"/>
<text x="814.4" y="1909.7" font-size="16.3" font-weight="bold" text-anchor="end" fill="#000" transform="rotate(-45 814.4 1909.7)">PBS</text>
<line x1="935.8" y1="1888.8" x2="935.8" y2="1896" stroke="#000" stroke-width="2"/>
<text x="941.8" y="1909.7" font-size="16.3" font-weight="bold" text-anchor="end" fill="#000" transform="rotate(-45 941.8 1909.7)">Poly(I:C)</text>
<line x1="1063.2" y1="1888.8" x2="1063.2" y2="1896" stroke="#000" stroke-width="2"/>
<text x="1069.2" y="1909.7" font-size="16.3" font-weight="bold" text-anchor="end" fill="#000" transform="rotate(-45 1069.2 1909.7)">IAV</text>
<polyline points="808.4,1655.4 808.4,1645.3 1063.2,1645.3 1063.2,1655.4" fill="none" stroke="#555555" stroke-width="1.3"/>
<text x="935.8" y="1635.1" font-size="15.5" font-weight="bold" text-anchor="middle" fill="#000" font-family="DejaVu Sans, sans-serif" style="font-family:'DejaVu Sans',sans-serif">∗</text>
<text x="936" y="1607.4" font-size="21.5" font-weight="bold" text-anchor="middle" fill="#000" textLength="149.6" lengthAdjust="spacingAndGlyphs">NK cells&#160; (lung)</text>
<text x="678.7" y="1761.1" font-size="18" font-weight="bold" text-anchor="middle" fill="#000" transform="rotate(-90 678.7 1761.1)" textLength="67.4" lengthAdjust="spacingAndGlyphs">CD49b+</text>
<text x="700.6" y="1780.95" font-size="18" font-weight="bold" text-anchor="middle" fill="#000" transform="rotate(-90 700.6 1780.95)" textLength="216.7" lengthAdjust="spacingAndGlyphs">% of alive leukocytes</text>
<rect x="1360.5" y="1841.4" width="83.8" height="33" fill="#F4A04A" stroke="#1c1c1c" stroke-width="1.35"/>
<rect x="1487.8" y="1841.4" width="83.8" height="33" fill="#F9C189" stroke="#383838" stroke-width="1.35"/>
<rect x="1614.9" y="1741.6" width="83.8" height="132.8" fill="#FCDFC0" stroke="#4a4a4a" stroke-width="1.35"/>
<circle cx="1385.2" cy="1826.7" r="4" fill="#F4A04A" stroke="#000" stroke-width="1.2"/>
<circle cx="1419.5" cy="1823.5" r="4" fill="#F4A04A" stroke="#000" stroke-width="1.2"/>
<circle cx="1402.4" cy="1831.2" r="4" fill="#F4A04A" stroke="#000" stroke-width="1.2"/>
<circle cx="1402.4" cy="1842.5" r="4" fill="#F4A04A" stroke="#000" stroke-width="1.2"/>
<circle cx="1411.1" cy="1856.5" r="4" fill="#F4A04A" stroke="#000" stroke-width="1.2"/>
<circle cx="1393.6" cy="1864.2" r="4" fill="#F4A04A" stroke="#000" stroke-width="1.2"/>
<rect x="1525.55" y="1814.85" width="8.3" height="8.3" fill="#F9C189" stroke="#000" stroke-width="1.2"/>
<rect x="1508.05" y="1820.75" width="8.3" height="8.3" fill="#F9C189" stroke="#000" stroke-width="1.2"/>
<rect x="1525.55" y="1824.95" width="8.3" height="8.3" fill="#F9C189" stroke="#000" stroke-width="1.2"/>
<rect x="1542.75" y="1837.65" width="8.3" height="8.3" fill="#F9C189" stroke="#000" stroke-width="1.2"/>
<rect x="1508.05" y="1840.05" width="8.3" height="8.3" fill="#F9C189" stroke="#000" stroke-width="1.2"/>
<rect x="1525.55" y="1847.75" width="8.3" height="8.3" fill="#F9C189" stroke="#000" stroke-width="1.2"/>
<rect x="1542.75" y="1847.05" width="8.3" height="8.3" fill="#F9C189" stroke="#000" stroke-width="1.2"/>
<rect x="1525.55" y="1861.15" width="8.3" height="8.3" fill="#F9C189" stroke="#000" stroke-width="1.2"/>
<polygon points="1656.8,1650.95 1652.9,1658.25 1660.7,1658.25" fill="#FCDFC0" stroke="#000" stroke-width="1.2" stroke-linejoin="miter"/>
<polygon points="1656.8,1697.55 1652.9,1704.85 1660.7,1704.85" fill="#FCDFC0" stroke="#000" stroke-width="1.2" stroke-linejoin="miter"/>
<polygon points="1656.8,1740.35 1652.9,1747.65 1660.7,1747.65" fill="#FCDFC0" stroke="#000" stroke-width="1.2" stroke-linejoin="miter"/>
<polygon points="1656.8,1753.65 1652.9,1760.95 1660.7,1760.95" fill="#FCDFC0" stroke="#000" stroke-width="1.2" stroke-linejoin="miter"/>
<polygon points="1665.2,1790.65 1661.3,1797.95 1669.1,1797.95" fill="#FCDFC0" stroke="#000" stroke-width="1.2" stroke-linejoin="miter"/>
<polygon points="1648.2,1795.05 1644.3,1802.35 1652.1,1802.35" fill="#FCDFC0" stroke="#000" stroke-width="1.2" stroke-linejoin="miter"/>
<line x1="1402.4" y1="1823.9" x2="1402.4" y2="1857.5" stroke="#1e1e1e" stroke-width="1.35"/>
<line x1="1381.2" y1="1823.9" x2="1423.6" y2="1823.9" stroke="#1e1e1e" stroke-width="1.35"/>
<line x1="1381.2" y1="1857.5" x2="1423.6" y2="1857.5" stroke="#1e1e1e" stroke-width="1.35"/>
<line x1="1529.7" y1="1825.3" x2="1529.7" y2="1856.5" stroke="#1e1e1e" stroke-width="1.35"/>
<line x1="1508.5" y1="1825.3" x2="1550.9" y2="1825.3" stroke="#1e1e1e" stroke-width="1.35"/>
<line x1="1508.5" y1="1856.5" x2="1550.9" y2="1856.5" stroke="#1e1e1e" stroke-width="1.35"/>
<line x1="1656.8" y1="1685.3" x2="1656.8" y2="1796.6" stroke="#1e1e1e" stroke-width="1.35"/>
<line x1="1635.6" y1="1685.3" x2="1678" y2="1685.3" stroke="#1e1e1e" stroke-width="1.35"/>
<line x1="1635.6" y1="1796.6" x2="1678" y2="1796.6" stroke="#1e1e1e" stroke-width="1.35"/>
<line x1="1338.5" y1="1619" x2="1338.5" y2="1875.5" stroke="#000" stroke-width="2.2"/>
<line x1="1337.4" y1="1874.4" x2="1723" y2="1874.4" stroke="#000" stroke-width="2.2"/>
<line x1="1331.9" y1="1874.4" x2="1338.5" y2="1874.4" stroke="#000" stroke-width="2"/>
<text x="1330" y="1879.85" font-size="16.3" font-weight="normal" text-anchor="end" fill="#111">0.0</text>
<line x1="1331.9" y1="1789.6" x2="1338.5" y2="1789.6" stroke="#000" stroke-width="2"/>
<text x="1330" y="1795.05" font-size="16.3" font-weight="normal" text-anchor="end" fill="#111">0.5</text>
<line x1="1331.9" y1="1704.8" x2="1338.5" y2="1704.8" stroke="#000" stroke-width="2"/>
<text x="1330" y="1710.25" font-size="16.3" font-weight="normal" text-anchor="end" fill="#111">1.0</text>
<line x1="1331.9" y1="1620" x2="1338.5" y2="1620" stroke="#000" stroke-width="2"/>
<text x="1330" y="1625.45" font-size="16.3" font-weight="normal" text-anchor="end" fill="#111">1.5</text>
<line x1="1402.4" y1="1874.4" x2="1402.4" y2="1881.6" stroke="#000" stroke-width="2"/>
<text x="1408.4" y="1895.3" font-size="16.3" font-weight="bold" text-anchor="end" fill="#000" transform="rotate(-45 1408.4 1895.3)">PBS</text>
<line x1="1529.7" y1="1874.4" x2="1529.7" y2="1881.6" stroke="#000" stroke-width="2"/>
<text x="1535.7" y="1895.3" font-size="16.3" font-weight="bold" text-anchor="end" fill="#000" transform="rotate(-45 1535.7 1895.3)">Poly(I:C)</text>
<line x1="1656.8" y1="1874.4" x2="1656.8" y2="1881.6" stroke="#000" stroke-width="2"/>
<text x="1662.8" y="1895.3" font-size="16.3" font-weight="bold" text-anchor="end" fill="#000" transform="rotate(-45 1662.8 1895.3)">IAV</text>
<polyline points="1402.4,1640.4 1402.4,1630.2 1656.8,1630.2 1656.8,1640.4" fill="none" stroke="#555555" stroke-width="1.3"/>
<text x="1529.6" y="1621" font-size="15.5" font-weight="bold" text-anchor="middle" fill="#000" font-family="DejaVu Sans, sans-serif" style="font-family:'DejaVu Sans',sans-serif">∗∗</text>
<text x="1457.2" y="1589" font-size="21.5" font-weight="bold" text-anchor="middle" fill="#000" textLength="12.7" lengthAdjust="spacingAndGlyphs">T</text>
<text x="1480.85" y="1593.8" font-size="14.5" font-weight="bold" text-anchor="middle" fill="#000" textLength="31.1" lengthAdjust="spacingAndGlyphs">Reg</text>
<text x="1554.75" y="1589" font-size="21.5" font-weight="bold" text-anchor="middle" fill="#000" textLength="109.7" lengthAdjust="spacingAndGlyphs">cells (lung)</text>
<text x="1258.7" y="1747" font-size="18" font-weight="bold" text-anchor="middle" fill="#000" transform="rotate(-90 1258.7 1747)" textLength="218.6" lengthAdjust="spacingAndGlyphs">CD3<tspan font-size="12.6" dy="-8.64">+</tspan><tspan dy="8.64"> CD4</tspan><tspan font-size="12.6" dy="-8.64">+</tspan><tspan dy="8.64"> CD25</tspan><tspan font-size="12.6" dy="-8.64">+</tspan><tspan dy="8.64"> FoxP3</tspan><tspan font-size="12.6" dy="-8.64">+</tspan></text>
<text x="1280.8" y="1745.35" font-size="18" font-weight="bold" text-anchor="middle" fill="#000" transform="rotate(-90 1280.8 1745.35)" textLength="130.7" lengthAdjust="spacingAndGlyphs">% of CD3+ cells</text>
<rect x="161.6" y="2285.3" width="83.8" height="127.3" fill="#F4A04A" stroke="#1c1c1c" stroke-width="1.35"/>
<rect x="289" y="2294.4" width="83.8" height="118.2" fill="#F9C189" stroke="#383838" stroke-width="1.35"/>
<rect x="416.3" y="2267.7" width="83.8" height="144.9" fill="#FCDFC0" stroke="#4a4a4a" stroke-width="1.35"/>
<circle cx="184.6" cy="2240" r="4" fill="#F4A04A" stroke="#000" stroke-width="1.2"/>
<circle cx="203.5" cy="2244.2" r="4" fill="#F4A04A" stroke="#000" stroke-width="1.2"/>
<circle cx="222.5" cy="2248.4" r="4" fill="#F4A04A" stroke="#000" stroke-width="1.2"/>
<circle cx="203.5" cy="2256.1" r="4" fill="#F4A04A" stroke="#000" stroke-width="1.2"/>
<circle cx="213" cy="2265.3" r="4" fill="#F4A04A" stroke="#000" stroke-width="1.2"/>
<circle cx="194" cy="2269.5" r="4" fill="#F4A04A" stroke="#000" stroke-width="1.2"/>
<circle cx="165.6" cy="2288.4" r="4" fill="#F4A04A" stroke="#000" stroke-width="1.2"/>
<circle cx="184.6" cy="2287.7" r="4" fill="#F4A04A" stroke="#000" stroke-width="1.2"/>
<circle cx="203.5" cy="2284.6" r="4" fill="#F4A04A" stroke="#000" stroke-width="1.2"/>
<circle cx="222.5" cy="2287" r="4" fill="#F4A04A" stroke="#000" stroke-width="1.2"/>
<circle cx="241.4" cy="2284.2" r="4" fill="#F4A04A" stroke="#000" stroke-width="1.2"/>
<circle cx="203.5" cy="2294.7" r="4" fill="#F4A04A" stroke="#000" stroke-width="1.2"/>
<circle cx="241.4" cy="2304.6" r="4" fill="#F4A04A" stroke="#000" stroke-width="1.2"/>
<circle cx="165.6" cy="2313.7" r="4" fill="#F4A04A" stroke="#000" stroke-width="1.2"/>
<circle cx="184.6" cy="2310.9" r="4" fill="#F4A04A" stroke="#000" stroke-width="1.2"/>
<circle cx="203.5" cy="2312.3" r="4" fill="#F4A04A" stroke="#000" stroke-width="1.2"/>
<circle cx="222.5" cy="2310.9" r="4" fill="#F4A04A" stroke="#000" stroke-width="1.2"/>
<circle cx="241.4" cy="2316.8" r="4" fill="#F4A04A" stroke="#000" stroke-width="1.2"/>
<rect x="326.75" y="2222.55" width="8.3" height="8.3" fill="#F9C189" stroke="#000" stroke-width="1.2"/>
<rect x="326.75" y="2253.05" width="8.3" height="8.3" fill="#F9C189" stroke="#000" stroke-width="1.2"/>
<rect x="300.75" y="2276.55" width="8.3" height="8.3" fill="#F9C189" stroke="#000" stroke-width="1.2"/>
<rect x="335.15" y="2272.35" width="8.3" height="8.3" fill="#F9C189" stroke="#000" stroke-width="1.2"/>
<rect x="352.65" y="2279.35" width="8.3" height="8.3" fill="#F9C189" stroke="#000" stroke-width="1.2"/>
<rect x="300.75" y="2288.15" width="8.3" height="8.3" fill="#F9C189" stroke="#000" stroke-width="1.2"/>
<rect x="317.95" y="2285.35" width="8.3" height="8.3" fill="#F9C189" stroke="#000" stroke-width="1.2"/>
<rect x="335.15" y="2281.15" width="8.3" height="8.3" fill="#F9C189" stroke="#000" stroke-width="1.2"/>
<rect x="300.75" y="2299.05" width="8.3" height="8.3" fill="#F9C189" stroke="#000" stroke-width="1.2"/>
<rect x="317.95" y="2299.05" width="8.3" height="8.3" fill="#F9C189" stroke="#000" stroke-width="1.2"/>
<rect x="335.15" y="2293.75" width="8.3" height="8.3" fill="#F9C189" stroke="#000" stroke-width="1.2"/>
<rect x="352.65" y="2292.35" width="8.3" height="8.3" fill="#F9C189" stroke="#000" stroke-width="1.2"/>
<rect x="317.95" y="2310.95" width="8.3" height="8.3" fill="#F9C189" stroke="#000" stroke-width="1.2"/>
<rect x="335.15" y="2307.45" width="8.3" height="8.3" fill="#F9C189" stroke="#000" stroke-width="1.2"/>
<rect x="335.15" y="2318.65" width="8.3" height="8.3" fill="#F9C189" stroke="#000" stroke-width="1.2"/>
<rect x="326.75" y="2351.25" width="8.3" height="8.3" fill="#F9C189" stroke="#000" stroke-width="1.2"/>
<polygon points="466,2223.05 462.1,2230.35 469.9,2230.35" fill="#FCDFC0" stroke="#000" stroke-width="1.2" stroke-linejoin="miter"/>
<polygon points="450.2,2230.75 446.3,2238.05 454.1,2238.05" fill="#FCDFC0" stroke="#000" stroke-width="1.2" stroke-linejoin="miter"/>
<polygon points="481.4,2244.75 477.5,2252.05 485.3,2252.05" fill="#FCDFC0" stroke="#000" stroke-width="1.2" stroke-linejoin="miter"/>
<polygon points="435.1,2251.75 431.2,2259.05 439,2259.05" fill="#FCDFC0" stroke="#000" stroke-width="1.2" stroke-linejoin="miter"/>
<polygon points="466,2251.75 462.1,2259.05 469.9,2259.05" fill="#FCDFC0" stroke="#000" stroke-width="1.2" stroke-linejoin="miter"/>
<polygon points="450.2,2258.15 446.3,2265.45 454.1,2265.45" fill="#FCDFC0" stroke="#000" stroke-width="1.2" stroke-linejoin="miter"/>
<polygon points="420,2261.65 416.1,2268.95 423.9,2268.95" fill="#FCDFC0" stroke="#000" stroke-width="1.2" stroke-linejoin="miter"/>
<polygon points="466,2265.85 462.1,2273.15 469.9,2273.15" fill="#FCDFC0" stroke="#000" stroke-width="1.2" stroke-linejoin="miter"/>
<polygon points="450.2,2268.65 446.3,2275.95 454.1,2275.95" fill="#FCDFC0" stroke="#000" stroke-width="1.2" stroke-linejoin="miter"/>
<polygon points="420,2272.85 416.1,2280.15 423.9,2280.15" fill="#FCDFC0" stroke="#000" stroke-width="1.2" stroke-linejoin="miter"/>
<polygon points="435.1,2276.35 431.2,2283.65 439,2283.65" fill="#FCDFC0" stroke="#000" stroke-width="1.2" stroke-linejoin="miter"/>
<polygon points="450.2,2279.15 446.3,2286.45 454.1,2286.45" fill="#FCDFC0" stroke="#000" stroke-width="1.2" stroke-linejoin="miter"/>
<polygon points="466,2279.85 462.1,2287.15 469.9,2287.15" fill="#FCDFC0" stroke="#000" stroke-width="1.2" stroke-linejoin="miter"/>
<polygon points="481.4,2274.55 477.5,2281.85 485.3,2281.85" fill="#FCDFC0" stroke="#000" stroke-width="1.2" stroke-linejoin="miter"/>
<polygon points="496.1,2276.35 492.2,2283.65 500,2283.65" fill="#FCDFC0" stroke="#000" stroke-width="1.2" stroke-linejoin="miter"/>
<polygon points="458.2,2302.65 454.3,2309.95 462.1,2309.95" fill="#FCDFC0" stroke="#000" stroke-width="1.2" stroke-linejoin="miter"/>
<line x1="203.5" y1="2259.3" x2="203.5" y2="2310.2" stroke="#1e1e1e" stroke-width="1.35"/>
<line x1="182.3" y1="2259.3" x2="224.7" y2="2259.3" stroke="#1e1e1e" stroke-width="1.35"/>
<line x1="182.3" y1="2310.2" x2="224.7" y2="2310.2" stroke="#1e1e1e" stroke-width="1.35"/>
<line x1="330.9" y1="2265.3" x2="330.9" y2="2322.5" stroke="#1e1e1e" stroke-width="1.35"/>
<line x1="309.7" y1="2265.3" x2="352.1" y2="2265.3" stroke="#1e1e1e" stroke-width="1.35"/>
<line x1="309.7" y1="2322.5" x2="352.1" y2="2322.5" stroke="#1e1e1e" stroke-width="1.35"/>
<line x1="458.2" y1="2247" x2="458.2" y2="2286.7" stroke="#1e1e1e" stroke-width="1.35"/>
<line x1="437" y1="2247" x2="479.4" y2="2247" stroke="#1e1e1e" stroke-width="1.35"/>
<line x1="437" y1="2286.7" x2="479.4" y2="2286.7" stroke="#1e1e1e" stroke-width="1.35"/>
<line x1="140" y1="2157.2" x2="140" y2="2413.7" stroke="#000" stroke-width="2.2"/>
<line x1="138.9" y1="2412.6" x2="522.8" y2="2412.6" stroke="#000" stroke-width="2.2"/>
<line x1="133.4" y1="2412.6" x2="140" y2="2412.6" stroke="#000" stroke-width="2"/>
<text x="131.5" y="2418.05" font-size="16.3" font-weight="normal" text-anchor="end" fill="#111">0</text>
<line x1="133.4" y1="2349" x2="140" y2="2349" stroke="#000" stroke-width="2"/>
<text x="131.5" y="2354.45" font-size="16.3" font-weight="normal" text-anchor="end" fill="#111">5</text>
<line x1="133.4" y1="2285.4" x2="140" y2="2285.4" stroke="#000" stroke-width="2"/>
<text x="131.5" y="2290.85" font-size="16.3" font-weight="normal" text-anchor="end" fill="#111">10</text>
<line x1="133.4" y1="2221.8" x2="140" y2="2221.8" stroke="#000" stroke-width="2"/>
<text x="131.5" y="2227.25" font-size="16.3" font-weight="normal" text-anchor="end" fill="#111">15</text>
<line x1="133.4" y1="2158.2" x2="140" y2="2158.2" stroke="#000" stroke-width="2"/>
<text x="131.5" y="2163.65" font-size="16.3" font-weight="normal" text-anchor="end" fill="#111">20</text>
<line x1="203.5" y1="2412.6" x2="203.5" y2="2419.8" stroke="#000" stroke-width="2"/>
<text x="209.5" y="2433.5" font-size="16.3" font-weight="bold" text-anchor="end" fill="#000" transform="rotate(-45 209.5 2433.5)">PBS</text>
<line x1="330.9" y1="2412.6" x2="330.9" y2="2419.8" stroke="#000" stroke-width="2"/>
<text x="336.9" y="2433.5" font-size="16.3" font-weight="bold" text-anchor="end" fill="#000" transform="rotate(-45 336.9 2433.5)">poly(I:C)</text>
<line x1="458.2" y1="2412.6" x2="458.2" y2="2419.8" stroke="#000" stroke-width="2"/>
<text x="464.2" y="2433.5" font-size="16.3" font-weight="bold" text-anchor="end" fill="#000" transform="rotate(-45 464.2 2433.5)">IAV</text>
<polyline points="203.5,2194.7 203.5,2184.6 458.2,2184.6 458.2,2194.7" fill="none" stroke="#555555" stroke-width="1.3"/>
<text x="330.85" y="2173.7" font-size="15.5" font-weight="bold" text-anchor="middle" fill="#000" font-family="DejaVu Sans, sans-serif" style="font-family:'DejaVu Sans',sans-serif">∗</text>
<text x="331.05" y="2132" font-size="21.5" font-weight="bold" text-anchor="middle" fill="#000" textLength="294.9" lengthAdjust="spacingAndGlyphs">Alveolar macrophages&#160; (lung)</text>
<text x="61.1" y="2284.15" font-size="18" font-weight="bold" text-anchor="middle" fill="#000" transform="rotate(-90 61.1 2284.15)" textLength="256.5" lengthAdjust="spacingAndGlyphs">CD11b<tspan font-size="12.6" dy="-8.64">-</tspan><tspan dy="8.64"> CD11c</tspan><tspan font-size="12.6" dy="-8.64">+</tspan><tspan dy="8.64"> CD45</tspan><tspan font-size="12.6" dy="-8.64">+</tspan><tspan dy="8.64"> SiglecF</tspan><tspan font-size="12.6" dy="-8.64">+</tspan></text>
<text x="86.5" y="2286.1" font-size="18" font-weight="bold" text-anchor="middle" fill="#000" transform="rotate(-90 86.5 2286.1)" textLength="141.8" lengthAdjust="spacingAndGlyphs">% of CD45<tspan font-size="12.6" dy="-8.64">+</tspan><tspan dy="8.64"> cells</tspan></text>
<circle cx="658.6" cy="2275.7" r="6" fill="#E8622A" stroke="#222" stroke-width="1.3"/>
<rect x="652.2" y="2310" width="12.8" height="12.8" fill="#F4A040" stroke="#222" stroke-width="1.3"/>
<polygon points="658.6,2350.9 652.1,2363.2 665.1,2363.2" fill="#FCE0C2" stroke="#222" stroke-width="1.3"/>
<text x="692.6" y="2283.9" font-size="24.2" font-weight="normal" text-anchor="start" fill="#2b2b2b" stroke="#2b2b2b" stroke-width="0.35" textLength="50.3" lengthAdjust="spacingAndGlyphs">PBS</text>
<text x="692.6" y="2324.6" font-size="24.2" font-weight="normal" text-anchor="start" fill="#2b2b2b" stroke="#2b2b2b" stroke-width="0.35" textLength="102.3" lengthAdjust="spacingAndGlyphs">Poly(I:C)</text>
<text x="692.6" y="2365.3" font-size="24.2" font-weight="normal" text-anchor="start" fill="#2b2b2b" stroke="#2b2b2b" stroke-width="0.35" textLength="39.2" lengthAdjust="spacingAndGlyphs">IAV</text>
<text x="2" y="34.3" font-size="46" font-weight="bold" text-anchor="start" fill="#000">a</text>
<text x="597.2" y="34.3" font-size="46" font-weight="bold" text-anchor="start" fill="#000">b</text>
<text x="1194.2" y="34.3" font-size="46" font-weight="bold" text-anchor="start" fill="#000">c</text>
<text x="1" y="533.6" font-size="46" font-weight="bold" text-anchor="start" fill="#000">d</text>
<text x="598.5" y="534.2" font-size="46" font-weight="bold" text-anchor="start" fill="#000">e</text>
<text x="1194.5" y="532.5" font-size="46" font-weight="bold" text-anchor="start" fill="#000">f</text>
<text x="1.5" y="1057.5" font-size="46" font-weight="bold" text-anchor="start" fill="#000">g</text>
<text x="597.3" y="1058" font-size="46" font-weight="bold" text-anchor="start" fill="#000">h</text>
<text x="1194.3" y="1057.8" font-size="46" font-weight="bold" text-anchor="start" fill="#000">i</text>
<text x="2.5" y="1575.8" font-size="46" font-weight="bold" text-anchor="start" fill="#000">j</text>
<text x="597.5" y="1576" font-size="46" font-weight="bold" text-anchor="start" fill="#000">k</text>
<text x="1194.3" y="1574.9" font-size="46" font-weight="bold" text-anchor="start" fill="#000">l</text>
<text x="1.2" y="2106.2" font-size="46" font-weight="bold" text-anchor="start" fill="#000">m</text>
</svg>
</body></html>
